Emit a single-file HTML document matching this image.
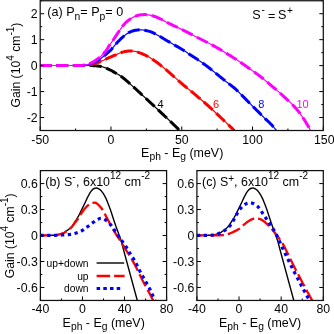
<!DOCTYPE html><html><head><meta charset="utf-8"><style>html,body{margin:0;padding:0;background:#fff}body{width:334px;height:334px;overflow:hidden}</style></head><body><svg width="334" height="334" viewBox="0 0 334 334" style="display:block;font-family:'Liberation Sans',sans-serif">
<rect width="334" height="334" fill="#fff"/>
<defs>
<clipPath id="ca"><rect x="40.2" y="0.75" width="283.1" height="129.75"/></clipPath>
<clipPath id="cb"><rect x="40.4" y="170.6" width="126.19999999999999" height="129.85"/></clipPath>
<clipPath id="cc"><rect x="196.9" y="170.6" width="126.4" height="129.85"/></clipPath>
</defs>
<g clip-path="url(#ca)" fill="none" stroke-linejoin="round">
<path d="M40.20,65.50 L40.74,65.50 L41.29,65.50 L41.83,65.50 L42.38,65.50 L42.92,65.50 L43.47,65.50 L44.01,65.50 L44.56,65.50 L45.10,65.50 L45.64,65.50 L46.19,65.50 L46.73,65.50 L47.28,65.50 L47.82,65.50 L48.37,65.50 L48.91,65.50 L49.46,65.50 L50.00,65.50 L50.55,65.50 L51.09,65.50 L51.63,65.50 L52.18,65.50 L52.72,65.50 L53.27,65.50 L53.81,65.50 L54.36,65.50 L54.90,65.50 L55.45,65.50 L55.99,65.50 L56.53,65.50 L57.08,65.50 L57.62,65.50 L58.17,65.50 L58.71,65.50 L59.26,65.50 L59.80,65.50 L60.35,65.50 L60.89,65.50 L61.43,65.50 L61.98,65.50 L62.52,65.50 L63.07,65.50 L63.61,65.50 L64.16,65.50 L64.70,65.50 L65.25,65.50 L65.79,65.50 L66.34,65.50 L66.88,65.50 L67.42,65.50 L67.97,65.50 L68.51,65.50 L69.06,65.50 L69.60,65.50 L70.15,65.50 L70.69,65.50 L71.24,65.50 L71.78,65.50 L72.32,65.50 L72.87,65.50 L73.41,65.50 L73.96,65.50 L74.50,65.50 L75.05,65.50 L75.59,65.50 L76.14,65.50 L76.68,65.50 L77.22,65.50 L77.77,65.50 L78.31,65.50 L78.86,65.50 L79.40,65.50 L79.95,65.50 L80.49,65.50 L81.04,65.50 L81.58,65.50 L82.12,65.50 L82.67,65.50 L83.21,65.50 L83.76,65.50 L84.30,65.50 L84.85,65.50 L85.39,65.50 L85.94,65.50 L86.48,65.50 L87.03,65.50 L87.57,65.51 L88.11,65.51 L88.66,65.52 L89.20,65.52 L89.75,65.53 L90.29,65.54 L90.84,65.55 L91.38,65.56 L91.92,65.58 L92.47,65.60 L93.01,65.63 L93.56,65.66 L94.10,65.69 L94.64,65.73 L95.19,65.76 L95.73,65.80 L96.27,65.85 L96.82,65.90 L97.36,65.96 L97.90,66.02 L98.44,66.08 L98.98,66.15 L99.52,66.23 L100.06,66.31 L100.59,66.40 L101.12,66.51 L101.66,66.63 L102.19,66.77 L102.71,66.91 L103.24,67.07 L103.76,67.22 L104.27,67.39 L104.78,67.57 L105.29,67.77 L105.79,67.99 L106.29,68.21 L106.79,68.43 L107.29,68.65 L107.79,68.87 L108.29,69.09 L108.78,69.32 L109.28,69.55 L109.77,69.78 L110.26,70.02 L110.74,70.27 L111.23,70.52 L111.70,70.78 L112.18,71.04 L112.65,71.31 L113.12,71.59 L113.59,71.87 L114.06,72.15 L114.53,72.42 L115.00,72.70 L115.47,72.97 L115.95,73.24 L116.42,73.50 L116.90,73.77 L117.38,74.03 L117.85,74.30 L118.32,74.57 L118.79,74.85 L119.26,75.13 L119.72,75.42 L120.17,75.71 L120.62,76.02 L121.06,76.33 L121.50,76.65 L121.94,76.98 L122.37,77.31 L122.80,77.65 L123.23,77.99 L123.66,78.33 L124.08,78.67 L124.50,79.01 L124.92,79.35 L125.34,79.70 L125.76,80.06 L126.17,80.41 L126.58,80.77 L126.99,81.13 L127.40,81.49 L127.81,81.85 L128.22,82.21 L128.62,82.57 L129.03,82.93 L129.44,83.30 L129.84,83.66 L130.25,84.02 L130.66,84.38 L131.06,84.75 L131.47,85.11 L131.87,85.47 L132.27,85.84 L132.68,86.20 L133.08,86.57 L133.49,86.94 L133.89,87.30 L134.29,87.67 L134.69,88.04 L135.09,88.40 L135.49,88.77 L135.90,89.14 L136.30,89.51 L136.70,89.88 L137.10,90.25 L137.50,90.62 L137.90,90.99 L138.29,91.36 L138.69,91.73 L139.09,92.10 L139.49,92.47 L139.89,92.84 L140.29,93.21 L140.69,93.58 L141.09,93.95 L141.48,94.33 L141.88,94.70 L142.28,95.07 L142.68,95.44 L143.08,95.81 L143.48,96.18 L143.87,96.55 L144.27,96.93 L144.67,97.30 L145.07,97.67 L145.47,98.04 L145.87,98.41 L146.26,98.78 L146.66,99.15 L147.06,99.52 L147.46,99.89 L147.86,100.26 L148.26,100.63 L148.66,101.01 L149.06,101.38 L149.45,101.75 L149.85,102.12 L150.25,102.49 L150.65,102.86 L151.05,103.23 L151.45,103.60 L151.84,103.97 L152.24,104.35 L152.64,104.72 L153.04,105.09 L153.44,105.46 L153.83,105.83 L154.23,106.20 L154.63,106.58 L155.03,106.95 L155.42,107.32 L155.82,107.69 L156.22,108.06 L156.62,108.44 L157.01,108.81 L157.41,109.18 L157.81,109.55 L158.21,109.93 L158.60,110.30 L159.00,110.67 L159.40,111.04 L159.79,111.42 L160.19,111.79 L160.59,112.16 L160.98,112.54 L161.38,112.91 L161.78,113.28 L162.17,113.66 L162.57,114.03 L162.96,114.40 L163.36,114.78 L163.76,115.15 L164.15,115.53 L164.55,115.90 L164.94,116.27 L165.34,116.65 L165.73,117.02 L166.13,117.40 L166.52,117.77 L166.92,118.15 L167.31,118.52 L167.71,118.90 L168.10,119.27 L168.50,119.65 L168.89,120.02 L169.29,120.40 L169.68,120.77 L170.07,121.15 L170.47,121.53 L170.86,121.90 L171.26,122.28 L171.65,122.65 L172.04,123.03 L172.44,123.41 L172.83,123.78 L173.22,124.16 L173.62,124.54 L174.01,124.91 L174.40,125.29 L174.79,125.67 L175.19,126.04 L175.58,126.42 L175.97,126.80 L176.36,127.18 L176.76,127.55 L177.15,127.93 L177.54,128.31 L177.93,128.69 L178.32,129.07 L178.72,129.44 L179.11,129.82 L179.50,130.20" stroke="#000" stroke-width="1.2"/>
<path d="M40.20,65.50 L40.74,65.50 L41.29,65.50 L41.83,65.50 L42.38,65.50 L42.92,65.50 L43.47,65.50 L44.01,65.50 L44.56,65.50 L45.10,65.50 L45.64,65.50 L46.19,65.50 L46.73,65.50 L47.28,65.50 L47.82,65.50 L48.37,65.50 L48.91,65.50 L49.46,65.50 L50.00,65.50 L50.55,65.50 L51.09,65.50 L51.63,65.50 L52.18,65.50 L52.72,65.50 L53.27,65.50 L53.81,65.50 L54.36,65.50 L54.90,65.50 L55.45,65.50 L55.99,65.50 L56.53,65.50 L57.08,65.50 L57.62,65.50 L58.17,65.50 L58.71,65.50 L59.26,65.50 L59.80,65.50 L60.35,65.50 L60.89,65.50 L61.43,65.50 L61.98,65.50 L62.52,65.50 L63.07,65.50 L63.61,65.50 L64.16,65.50 L64.70,65.50 L65.25,65.50 L65.79,65.50 L66.34,65.50 L66.88,65.50 L67.42,65.50 L67.97,65.50 L68.51,65.50 L69.06,65.50 L69.60,65.50 L70.15,65.50 L70.69,65.50 L71.24,65.50 L71.78,65.50 L72.32,65.50 L72.87,65.50 L73.41,65.50 L73.96,65.50 L74.50,65.50 L75.05,65.50 L75.59,65.50 L76.14,65.50 L76.68,65.50 L77.22,65.50 L77.77,65.50 L78.31,65.50 L78.86,65.50 L79.40,65.50 L79.95,65.50 L80.49,65.50 L81.04,65.50 L81.58,65.50 L82.12,65.50 L82.67,65.50 L83.21,65.50 L83.76,65.50 L84.30,65.50 L84.85,65.50 L85.39,65.50 L85.94,65.50 L86.48,65.50 L87.03,65.50 L87.57,65.51 L88.11,65.51 L88.66,65.52 L89.20,65.52 L89.75,65.53 L90.29,65.54 L90.84,65.55 L91.38,65.56 L91.92,65.58 L92.47,65.60 L93.01,65.63 L93.56,65.66 L94.10,65.69 L94.64,65.73 L95.19,65.76 L95.73,65.80 L96.27,65.85 L96.82,65.90 L97.36,65.96 L97.90,66.02 L98.44,66.08 L98.98,66.15 L99.52,66.23 L100.06,66.31 L100.59,66.40 L101.12,66.51 L101.66,66.63 L102.19,66.77 L102.71,66.91 L103.24,67.07 L103.76,67.22 L104.27,67.39 L104.78,67.57 L105.29,67.77 L105.79,67.99 L106.29,68.21 L106.79,68.43 L107.29,68.65 L107.79,68.87 L108.29,69.09 L108.78,69.32 L109.28,69.55 L109.77,69.78 L110.26,70.02 L110.74,70.27 L111.23,70.52 L111.70,70.78 L112.18,71.04 L112.65,71.31 L113.12,71.59 L113.59,71.87 L114.06,72.15 L114.53,72.42 L115.00,72.70 L115.47,72.97 L115.95,73.24 L116.42,73.50 L116.90,73.77 L117.38,74.03 L117.85,74.30 L118.32,74.57 L118.79,74.85 L119.26,75.13 L119.72,75.42 L120.17,75.71 L120.62,76.02 L121.06,76.33 L121.50,76.65 L121.94,76.98 L122.37,77.31 L122.80,77.65 L123.23,77.99 L123.66,78.33 L124.08,78.67 L124.50,79.01 L124.92,79.35 L125.34,79.70 L125.76,80.06 L126.17,80.41 L126.58,80.77 L126.99,81.13 L127.40,81.49 L127.81,81.85 L128.22,82.21 L128.62,82.57 L129.03,82.93 L129.44,83.30 L129.84,83.66 L130.25,84.02 L130.66,84.38 L131.06,84.75 L131.47,85.11 L131.87,85.47 L132.27,85.84 L132.68,86.20 L133.08,86.57 L133.49,86.94 L133.89,87.30 L134.29,87.67 L134.69,88.04 L135.09,88.40 L135.49,88.77 L135.90,89.14 L136.30,89.51 L136.70,89.88 L137.10,90.25 L137.50,90.62 L137.90,90.99 L138.29,91.36 L138.69,91.73 L139.09,92.10 L139.49,92.47 L139.89,92.84 L140.29,93.21 L140.69,93.58 L141.09,93.95 L141.48,94.33 L141.88,94.70 L142.28,95.07 L142.68,95.44 L143.08,95.81 L143.48,96.18 L143.87,96.55 L144.27,96.93 L144.67,97.30 L145.07,97.67 L145.47,98.04 L145.87,98.41 L146.26,98.78 L146.66,99.15 L147.06,99.52 L147.46,99.89 L147.86,100.26 L148.26,100.63 L148.66,101.01 L149.06,101.38 L149.45,101.75 L149.85,102.12 L150.25,102.49 L150.65,102.86 L151.05,103.23 L151.45,103.60 L151.84,103.97 L152.24,104.35 L152.64,104.72 L153.04,105.09 L153.44,105.46 L153.83,105.83 L154.23,106.20 L154.63,106.58 L155.03,106.95 L155.42,107.32 L155.82,107.69 L156.22,108.06 L156.62,108.44 L157.01,108.81 L157.41,109.18 L157.81,109.55 L158.21,109.93 L158.60,110.30 L159.00,110.67 L159.40,111.04 L159.79,111.42 L160.19,111.79 L160.59,112.16 L160.98,112.54 L161.38,112.91 L161.78,113.28 L162.17,113.66 L162.57,114.03 L162.96,114.40 L163.36,114.78 L163.76,115.15 L164.15,115.53 L164.55,115.90 L164.94,116.27 L165.34,116.65 L165.73,117.02 L166.13,117.40 L166.52,117.77 L166.92,118.15 L167.31,118.52 L167.71,118.90 L168.10,119.27 L168.50,119.65 L168.89,120.02 L169.29,120.40 L169.68,120.77 L170.07,121.15 L170.47,121.53 L170.86,121.90 L171.26,122.28 L171.65,122.65 L172.04,123.03 L172.44,123.41 L172.83,123.78 L173.22,124.16 L173.62,124.54 L174.01,124.91 L174.40,125.29 L174.79,125.67 L175.19,126.04 L175.58,126.42 L175.97,126.80 L176.36,127.18 L176.76,127.55 L177.15,127.93 L177.54,128.31 L177.93,128.69 L178.32,129.07 L178.72,129.44 L179.11,129.82 L179.50,130.20" stroke="#000" stroke-width="3" stroke-dasharray="12 4.75" stroke-dashoffset="0.8"/>
<path d="M40.20,65.50 L40.95,65.50 L41.71,65.50 L42.46,65.50 L43.21,65.50 L43.97,65.50 L44.72,65.50 L45.47,65.50 L46.23,65.50 L46.98,65.50 L47.73,65.50 L48.49,65.50 L49.24,65.50 L49.99,65.50 L50.75,65.50 L51.50,65.50 L52.25,65.50 L53.01,65.50 L53.76,65.50 L54.51,65.50 L55.27,65.50 L56.02,65.50 L56.77,65.50 L57.53,65.50 L58.28,65.50 L59.03,65.50 L59.79,65.50 L60.54,65.50 L61.29,65.50 L62.05,65.50 L62.80,65.50 L63.55,65.50 L64.31,65.50 L65.06,65.50 L65.81,65.50 L66.57,65.50 L67.32,65.50 L68.07,65.50 L68.83,65.50 L69.58,65.50 L70.33,65.50 L71.09,65.50 L71.84,65.50 L72.59,65.50 L73.34,65.50 L74.10,65.50 L74.85,65.50 L75.60,65.50 L76.36,65.50 L77.11,65.50 L77.86,65.50 L78.62,65.50 L79.37,65.50 L80.12,65.50 L80.88,65.50 L81.63,65.49 L82.38,65.47 L83.14,65.46 L83.89,65.44 L84.64,65.41 L85.39,65.38 L86.15,65.33 L86.90,65.26 L87.65,65.18 L88.40,65.08 L89.14,64.98 L89.88,64.87 L90.63,64.73 L91.37,64.58 L92.10,64.42 L92.84,64.24 L93.56,64.04 L94.27,63.81 L94.98,63.56 L95.69,63.30 L96.40,63.04 L97.11,62.78 L97.82,62.53 L98.53,62.26 L99.23,62.00 L99.93,61.73 L100.63,61.45 L101.33,61.16 L102.02,60.87 L102.71,60.57 L103.40,60.26 L104.09,59.96 L104.78,59.64 L105.46,59.32 L106.14,58.99 L106.82,58.67 L107.50,58.35 L108.19,58.04 L108.87,57.73 L109.56,57.42 L110.25,57.12 L110.94,56.82 L111.64,56.54 L112.34,56.26 L113.04,55.98 L113.74,55.71 L114.44,55.43 L115.14,55.14 L115.83,54.84 L116.51,54.52 L117.20,54.20 L117.88,53.88 L118.57,53.57 L119.26,53.28 L119.96,53.01 L120.67,52.77 L121.39,52.53 L122.11,52.30 L122.83,52.09 L123.56,51.90 L124.29,51.73 L125.03,51.57 L125.77,51.41 L126.51,51.27 L127.26,51.16 L128.01,51.10 L128.76,51.07 L129.51,51.04 L130.27,51.01 L131.02,51.00 L131.77,51.00 L132.52,51.04 L133.28,51.13 L134.03,51.24 L134.77,51.37 L135.51,51.51 L136.24,51.65 L136.97,51.83 L137.69,52.06 L138.41,52.31 L139.12,52.57 L139.82,52.84 L140.53,53.10 L141.23,53.37 L141.93,53.66 L142.62,53.96 L143.31,54.26 L144.00,54.57 L144.68,54.88 L145.36,55.21 L146.04,55.54 L146.72,55.87 L147.39,56.22 L148.05,56.57 L148.71,56.94 L149.36,57.31 L150.01,57.70 L150.64,58.10 L151.28,58.51 L151.91,58.92 L152.53,59.35 L153.16,59.77 L153.78,60.19 L154.40,60.62 L155.02,61.05 L155.64,61.48 L156.25,61.92 L156.86,62.36 L157.47,62.80 L158.07,63.25 L158.67,63.71 L159.26,64.18 L159.85,64.65 L160.44,65.12 L161.02,65.60 L161.61,66.07 L162.19,66.55 L162.78,67.02 L163.36,67.50 L163.95,67.97 L164.53,68.45 L165.11,68.93 L165.69,69.40 L166.27,69.89 L166.85,70.37 L167.42,70.86 L167.99,71.35 L168.56,71.85 L169.12,72.34 L169.69,72.84 L170.25,73.35 L170.81,73.85 L171.37,74.35 L171.93,74.86 L172.49,75.36 L173.05,75.87 L173.61,76.37 L174.17,76.87 L174.73,77.38 L175.29,77.88 L175.86,78.38 L176.43,78.87 L176.99,79.37 L177.56,79.87 L178.12,80.36 L178.69,80.86 L179.26,81.36 L179.82,81.85 L180.39,82.35 L180.96,82.84 L181.53,83.34 L182.10,83.83 L182.67,84.32 L183.24,84.81 L183.81,85.30 L184.39,85.79 L184.97,86.27 L185.54,86.75 L186.12,87.23 L186.71,87.71 L187.29,88.18 L187.88,88.66 L188.47,89.13 L189.05,89.60 L189.64,90.07 L190.23,90.54 L190.82,91.01 L191.41,91.48 L191.99,91.96 L192.58,92.43 L193.16,92.91 L193.74,93.39 L194.32,93.87 L194.90,94.35 L195.48,94.84 L196.05,95.32 L196.63,95.81 L197.20,96.30 L197.77,96.79 L198.35,97.28 L198.92,97.77 L199.49,98.26 L200.06,98.75 L200.63,99.24 L201.20,99.74 L201.77,100.23 L202.34,100.72 L202.90,101.22 L203.47,101.71 L204.04,102.21 L204.61,102.70 L205.17,103.20 L205.74,103.70 L206.30,104.20 L206.87,104.70 L207.43,105.20 L207.99,105.70 L208.56,106.20 L209.12,106.70 L209.68,107.21 L210.23,107.71 L210.79,108.22 L211.35,108.73 L211.90,109.23 L212.46,109.74 L213.01,110.25 L213.56,110.77 L214.12,111.28 L214.67,111.79 L215.22,112.31 L215.77,112.82 L216.32,113.34 L216.87,113.85 L217.42,114.37 L217.97,114.88 L218.51,115.40 L219.06,115.92 L219.61,116.43 L220.16,116.95 L220.71,117.47 L221.25,117.98 L221.80,118.50 L222.35,119.02 L222.89,119.54 L223.44,120.06 L223.99,120.58 L224.53,121.09 L225.08,121.61 L225.62,122.13 L226.17,122.65 L226.71,123.17 L227.26,123.70 L227.80,124.22 L228.34,124.74 L228.89,125.26 L229.43,125.78 L229.97,126.31 L230.52,126.83 L231.06,127.35 L231.60,127.88 L232.14,128.40 L232.68,128.92 L233.22,129.45 L233.76,129.97 L234.30,130.50" stroke="#f00" stroke-width="1.2"/>
<path d="M40.20,65.50 L40.95,65.50 L41.71,65.50 L42.46,65.50 L43.21,65.50 L43.97,65.50 L44.72,65.50 L45.47,65.50 L46.23,65.50 L46.98,65.50 L47.73,65.50 L48.49,65.50 L49.24,65.50 L49.99,65.50 L50.75,65.50 L51.50,65.50 L52.25,65.50 L53.01,65.50 L53.76,65.50 L54.51,65.50 L55.27,65.50 L56.02,65.50 L56.77,65.50 L57.53,65.50 L58.28,65.50 L59.03,65.50 L59.79,65.50 L60.54,65.50 L61.29,65.50 L62.05,65.50 L62.80,65.50 L63.55,65.50 L64.31,65.50 L65.06,65.50 L65.81,65.50 L66.57,65.50 L67.32,65.50 L68.07,65.50 L68.83,65.50 L69.58,65.50 L70.33,65.50 L71.09,65.50 L71.84,65.50 L72.59,65.50 L73.34,65.50 L74.10,65.50 L74.85,65.50 L75.60,65.50 L76.36,65.50 L77.11,65.50 L77.86,65.50 L78.62,65.50 L79.37,65.50 L80.12,65.50 L80.88,65.50 L81.63,65.49 L82.38,65.47 L83.14,65.46 L83.89,65.44 L84.64,65.41 L85.39,65.38 L86.15,65.33 L86.90,65.26 L87.65,65.18 L88.40,65.08 L89.14,64.98 L89.88,64.87 L90.63,64.73 L91.37,64.58 L92.10,64.42 L92.84,64.24 L93.56,64.04 L94.27,63.81 L94.98,63.56 L95.69,63.30 L96.40,63.04 L97.11,62.78 L97.82,62.53 L98.53,62.26 L99.23,62.00 L99.93,61.73 L100.63,61.45 L101.33,61.16 L102.02,60.87 L102.71,60.57 L103.40,60.26 L104.09,59.96 L104.78,59.64 L105.46,59.32 L106.14,58.99 L106.82,58.67 L107.50,58.35 L108.19,58.04 L108.87,57.73 L109.56,57.42 L110.25,57.12 L110.94,56.82 L111.64,56.54 L112.34,56.26 L113.04,55.98 L113.74,55.71 L114.44,55.43 L115.14,55.14 L115.83,54.84 L116.51,54.52 L117.20,54.20 L117.88,53.88 L118.57,53.57 L119.26,53.28 L119.96,53.01 L120.67,52.77 L121.39,52.53 L122.11,52.30 L122.83,52.09 L123.56,51.90 L124.29,51.73 L125.03,51.57 L125.77,51.41 L126.51,51.27 L127.26,51.16 L128.01,51.10 L128.76,51.07 L129.51,51.04 L130.27,51.01 L131.02,51.00 L131.77,51.00 L132.52,51.04 L133.28,51.13 L134.03,51.24 L134.77,51.37 L135.51,51.51 L136.24,51.65 L136.97,51.83 L137.69,52.06 L138.41,52.31 L139.12,52.57 L139.82,52.84 L140.53,53.10 L141.23,53.37 L141.93,53.66 L142.62,53.96 L143.31,54.26 L144.00,54.57 L144.68,54.88 L145.36,55.21 L146.04,55.54 L146.72,55.87 L147.39,56.22 L148.05,56.57 L148.71,56.94 L149.36,57.31 L150.01,57.70 L150.64,58.10 L151.28,58.51 L151.91,58.92 L152.53,59.35 L153.16,59.77 L153.78,60.19 L154.40,60.62 L155.02,61.05 L155.64,61.48 L156.25,61.92 L156.86,62.36 L157.47,62.80 L158.07,63.25 L158.67,63.71 L159.26,64.18 L159.85,64.65 L160.44,65.12 L161.02,65.60 L161.61,66.07 L162.19,66.55 L162.78,67.02 L163.36,67.50 L163.95,67.97 L164.53,68.45 L165.11,68.93 L165.69,69.40 L166.27,69.89 L166.85,70.37 L167.42,70.86 L167.99,71.35 L168.56,71.85 L169.12,72.34 L169.69,72.84 L170.25,73.35 L170.81,73.85 L171.37,74.35 L171.93,74.86 L172.49,75.36 L173.05,75.87 L173.61,76.37 L174.17,76.87 L174.73,77.38 L175.29,77.88 L175.86,78.38 L176.43,78.87 L176.99,79.37 L177.56,79.87 L178.12,80.36 L178.69,80.86 L179.26,81.36 L179.82,81.85 L180.39,82.35 L180.96,82.84 L181.53,83.34 L182.10,83.83 L182.67,84.32 L183.24,84.81 L183.81,85.30 L184.39,85.79 L184.97,86.27 L185.54,86.75 L186.12,87.23 L186.71,87.71 L187.29,88.18 L187.88,88.66 L188.47,89.13 L189.05,89.60 L189.64,90.07 L190.23,90.54 L190.82,91.01 L191.41,91.48 L191.99,91.96 L192.58,92.43 L193.16,92.91 L193.74,93.39 L194.32,93.87 L194.90,94.35 L195.48,94.84 L196.05,95.32 L196.63,95.81 L197.20,96.30 L197.77,96.79 L198.35,97.28 L198.92,97.77 L199.49,98.26 L200.06,98.75 L200.63,99.24 L201.20,99.74 L201.77,100.23 L202.34,100.72 L202.90,101.22 L203.47,101.71 L204.04,102.21 L204.61,102.70 L205.17,103.20 L205.74,103.70 L206.30,104.20 L206.87,104.70 L207.43,105.20 L207.99,105.70 L208.56,106.20 L209.12,106.70 L209.68,107.21 L210.23,107.71 L210.79,108.22 L211.35,108.73 L211.90,109.23 L212.46,109.74 L213.01,110.25 L213.56,110.77 L214.12,111.28 L214.67,111.79 L215.22,112.31 L215.77,112.82 L216.32,113.34 L216.87,113.85 L217.42,114.37 L217.97,114.88 L218.51,115.40 L219.06,115.92 L219.61,116.43 L220.16,116.95 L220.71,117.47 L221.25,117.98 L221.80,118.50 L222.35,119.02 L222.89,119.54 L223.44,120.06 L223.99,120.58 L224.53,121.09 L225.08,121.61 L225.62,122.13 L226.17,122.65 L226.71,123.17 L227.26,123.70 L227.80,124.22 L228.34,124.74 L228.89,125.26 L229.43,125.78 L229.97,126.31 L230.52,126.83 L231.06,127.35 L231.60,127.88 L232.14,128.40 L232.68,128.92 L233.22,129.45 L233.76,129.97 L234.30,130.50" stroke="#f00" stroke-width="3" stroke-dasharray="12 4.75" stroke-dashoffset="0.8"/>
<path d="M40.20,65.50 L41.15,65.50 L42.10,65.50 L43.05,65.50 L44.00,65.50 L44.95,65.50 L45.90,65.50 L46.85,65.50 L47.80,65.50 L48.75,65.50 L49.70,65.50 L50.65,65.50 L51.60,65.50 L52.54,65.50 L53.49,65.50 L54.44,65.50 L55.39,65.50 L56.34,65.50 L57.29,65.50 L58.24,65.50 L59.19,65.50 L60.14,65.50 L61.09,65.50 L62.04,65.50 L62.99,65.50 L63.94,65.50 L64.89,65.50 L65.83,65.50 L66.78,65.50 L67.73,65.50 L68.68,65.50 L69.63,65.50 L70.58,65.50 L71.53,65.50 L72.48,65.50 L73.43,65.50 L74.38,65.50 L75.33,65.50 L76.27,65.50 L77.22,65.50 L78.17,65.50 L79.12,65.50 L80.07,65.50 L81.02,65.49 L81.97,65.45 L82.92,65.40 L83.86,65.33 L84.80,65.20 L85.74,65.04 L86.68,64.88 L87.61,64.69 L88.53,64.47 L89.45,64.22 L90.34,63.92 L91.23,63.56 L92.10,63.18 L92.97,62.79 L93.83,62.39 L94.68,61.98 L95.53,61.55 L96.37,61.11 L97.20,60.65 L98.04,60.19 L98.86,59.71 L99.66,59.22 L100.45,58.70 L101.23,58.15 L101.99,57.59 L102.75,57.00 L103.49,56.41 L104.23,55.81 L104.95,55.20 L105.66,54.57 L106.36,53.93 L107.07,53.29 L107.78,52.67 L108.51,52.05 L109.24,51.44 L109.95,50.81 L110.64,50.16 L111.29,49.48 L111.92,48.77 L112.52,48.04 L113.12,47.30 L113.71,46.55 L114.31,45.81 L114.92,45.09 L115.55,44.37 L116.18,43.66 L116.82,42.96 L117.46,42.26 L118.12,41.58 L118.78,40.90 L119.45,40.21 L120.12,39.53 L120.79,38.86 L121.48,38.20 L122.18,37.55 L122.89,36.92 L123.61,36.32 L124.34,35.73 L125.09,35.14 L125.85,34.55 L126.63,33.97 L127.42,33.42 L128.23,32.91 L129.05,32.45 L129.89,32.05 L130.75,31.70 L131.63,31.36 L132.54,31.04 L133.46,30.76 L134.39,30.52 L135.32,30.31 L136.25,30.16 L137.19,30.03 L138.14,29.91 L139.09,29.83 L140.03,29.80 L140.98,29.83 L141.92,29.89 L142.87,30.00 L143.82,30.14 L144.77,30.30 L145.71,30.49 L146.65,30.69 L147.57,30.91 L148.49,31.13 L149.38,31.35 L150.27,31.62 L151.15,31.94 L152.02,32.30 L152.89,32.69 L153.74,33.12 L154.60,33.57 L155.44,34.03 L156.29,34.50 L157.13,34.97 L157.97,35.44 L158.81,35.90 L159.64,36.34 L160.47,36.80 L161.29,37.28 L162.11,37.76 L162.92,38.25 L163.74,38.74 L164.55,39.23 L165.36,39.73 L166.17,40.22 L166.99,40.70 L167.81,41.18 L168.63,41.65 L169.46,42.13 L170.28,42.60 L171.11,43.07 L171.93,43.54 L172.76,44.01 L173.58,44.48 L174.40,44.95 L175.22,45.43 L176.05,45.90 L176.87,46.38 L177.69,46.85 L178.51,47.33 L179.33,47.80 L180.15,48.28 L180.97,48.77 L181.78,49.26 L182.59,49.75 L183.40,50.25 L184.20,50.76 L185.00,51.28 L185.79,51.80 L186.58,52.32 L187.37,52.85 L188.16,53.38 L188.95,53.91 L189.74,54.43 L190.54,54.95 L191.33,55.47 L192.13,55.98 L192.93,56.50 L193.72,57.01 L194.52,57.53 L195.32,58.05 L196.11,58.57 L196.91,59.09 L197.70,59.61 L198.48,60.15 L199.26,60.68 L200.04,61.22 L200.82,61.77 L201.60,62.31 L202.37,62.86 L203.15,63.41 L203.92,63.97 L204.68,64.53 L205.45,65.09 L206.21,65.66 L206.97,66.22 L207.73,66.80 L208.48,67.37 L209.24,67.95 L209.98,68.53 L210.73,69.12 L211.47,69.72 L212.21,70.31 L212.95,70.91 L213.68,71.51 L214.42,72.11 L215.16,72.71 L215.89,73.31 L216.63,73.90 L217.37,74.50 L218.11,75.10 L218.85,75.69 L219.58,76.29 L220.32,76.89 L221.05,77.49 L221.79,78.09 L222.53,78.69 L223.26,79.29 L224.00,79.89 L224.74,80.49 L225.48,81.08 L226.22,81.67 L226.96,82.26 L227.72,82.84 L228.47,83.42 L229.23,84.00 L229.98,84.57 L230.74,85.15 L231.49,85.73 L232.24,86.32 L232.98,86.91 L233.72,87.51 L234.44,88.12 L235.15,88.74 L235.86,89.37 L236.55,90.02 L237.24,90.67 L237.92,91.33 L238.60,92.00 L239.27,92.67 L239.94,93.35 L240.61,94.02 L241.29,94.69 L241.96,95.36 L242.63,96.03 L243.29,96.71 L243.96,97.39 L244.62,98.07 L245.28,98.75 L245.95,99.42 L246.61,100.10 L247.28,100.78 L247.94,101.46 L248.60,102.14 L249.27,102.81 L249.93,103.49 L250.60,104.17 L251.26,104.85 L251.93,105.52 L252.60,106.20 L253.27,106.87 L253.94,107.54 L254.62,108.20 L255.30,108.87 L255.98,109.53 L256.65,110.20 L257.33,110.86 L258.01,111.52 L258.69,112.19 L259.36,112.86 L260.03,113.53 L260.70,114.20 L261.37,114.88 L262.04,115.55 L262.71,116.23 L263.38,116.90 L264.05,117.57 L264.73,118.23 L265.41,118.89 L266.10,119.55 L266.79,120.19 L267.49,120.84 L268.19,121.48 L268.89,122.13 L269.57,122.78 L270.25,123.45 L270.92,124.12 L271.57,124.80 L272.22,125.49 L272.87,126.19 L273.51,126.89 L274.14,127.60 L274.76,128.32 L275.38,129.04 L275.99,129.77 L276.60,130.50" stroke="#00f" stroke-width="1.2"/>
<path d="M40.20,65.50 L41.15,65.50 L42.10,65.50 L43.05,65.50 L44.00,65.50 L44.95,65.50 L45.90,65.50 L46.85,65.50 L47.80,65.50 L48.75,65.50 L49.70,65.50 L50.65,65.50 L51.60,65.50 L52.54,65.50 L53.49,65.50 L54.44,65.50 L55.39,65.50 L56.34,65.50 L57.29,65.50 L58.24,65.50 L59.19,65.50 L60.14,65.50 L61.09,65.50 L62.04,65.50 L62.99,65.50 L63.94,65.50 L64.89,65.50 L65.83,65.50 L66.78,65.50 L67.73,65.50 L68.68,65.50 L69.63,65.50 L70.58,65.50 L71.53,65.50 L72.48,65.50 L73.43,65.50 L74.38,65.50 L75.33,65.50 L76.27,65.50 L77.22,65.50 L78.17,65.50 L79.12,65.50 L80.07,65.50 L81.02,65.49 L81.97,65.45 L82.92,65.40 L83.86,65.33 L84.80,65.20 L85.74,65.04 L86.68,64.88 L87.61,64.69 L88.53,64.47 L89.45,64.22 L90.34,63.92 L91.23,63.56 L92.10,63.18 L92.97,62.79 L93.83,62.39 L94.68,61.98 L95.53,61.55 L96.37,61.11 L97.20,60.65 L98.04,60.19 L98.86,59.71 L99.66,59.22 L100.45,58.70 L101.23,58.15 L101.99,57.59 L102.75,57.00 L103.49,56.41 L104.23,55.81 L104.95,55.20 L105.66,54.57 L106.36,53.93 L107.07,53.29 L107.78,52.67 L108.51,52.05 L109.24,51.44 L109.95,50.81 L110.64,50.16 L111.29,49.48 L111.92,48.77 L112.52,48.04 L113.12,47.30 L113.71,46.55 L114.31,45.81 L114.92,45.09 L115.55,44.37 L116.18,43.66 L116.82,42.96 L117.46,42.26 L118.12,41.58 L118.78,40.90 L119.45,40.21 L120.12,39.53 L120.79,38.86 L121.48,38.20 L122.18,37.55 L122.89,36.92 L123.61,36.32 L124.34,35.73 L125.09,35.14 L125.85,34.55 L126.63,33.97 L127.42,33.42 L128.23,32.91 L129.05,32.45 L129.89,32.05 L130.75,31.70 L131.63,31.36 L132.54,31.04 L133.46,30.76 L134.39,30.52 L135.32,30.31 L136.25,30.16 L137.19,30.03 L138.14,29.91 L139.09,29.83 L140.03,29.80 L140.98,29.83 L141.92,29.89 L142.87,30.00 L143.82,30.14 L144.77,30.30 L145.71,30.49 L146.65,30.69 L147.57,30.91 L148.49,31.13 L149.38,31.35 L150.27,31.62 L151.15,31.94 L152.02,32.30 L152.89,32.69 L153.74,33.12 L154.60,33.57 L155.44,34.03 L156.29,34.50 L157.13,34.97 L157.97,35.44 L158.81,35.90 L159.64,36.34 L160.47,36.80 L161.29,37.28 L162.11,37.76 L162.92,38.25 L163.74,38.74 L164.55,39.23 L165.36,39.73 L166.17,40.22 L166.99,40.70 L167.81,41.18 L168.63,41.65 L169.46,42.13 L170.28,42.60 L171.11,43.07 L171.93,43.54 L172.76,44.01 L173.58,44.48 L174.40,44.95 L175.22,45.43 L176.05,45.90 L176.87,46.38 L177.69,46.85 L178.51,47.33 L179.33,47.80 L180.15,48.28 L180.97,48.77 L181.78,49.26 L182.59,49.75 L183.40,50.25 L184.20,50.76 L185.00,51.28 L185.79,51.80 L186.58,52.32 L187.37,52.85 L188.16,53.38 L188.95,53.91 L189.74,54.43 L190.54,54.95 L191.33,55.47 L192.13,55.98 L192.93,56.50 L193.72,57.01 L194.52,57.53 L195.32,58.05 L196.11,58.57 L196.91,59.09 L197.70,59.61 L198.48,60.15 L199.26,60.68 L200.04,61.22 L200.82,61.77 L201.60,62.31 L202.37,62.86 L203.15,63.41 L203.92,63.97 L204.68,64.53 L205.45,65.09 L206.21,65.66 L206.97,66.22 L207.73,66.80 L208.48,67.37 L209.24,67.95 L209.98,68.53 L210.73,69.12 L211.47,69.72 L212.21,70.31 L212.95,70.91 L213.68,71.51 L214.42,72.11 L215.16,72.71 L215.89,73.31 L216.63,73.90 L217.37,74.50 L218.11,75.10 L218.85,75.69 L219.58,76.29 L220.32,76.89 L221.05,77.49 L221.79,78.09 L222.53,78.69 L223.26,79.29 L224.00,79.89 L224.74,80.49 L225.48,81.08 L226.22,81.67 L226.96,82.26 L227.72,82.84 L228.47,83.42 L229.23,84.00 L229.98,84.57 L230.74,85.15 L231.49,85.73 L232.24,86.32 L232.98,86.91 L233.72,87.51 L234.44,88.12 L235.15,88.74 L235.86,89.37 L236.55,90.02 L237.24,90.67 L237.92,91.33 L238.60,92.00 L239.27,92.67 L239.94,93.35 L240.61,94.02 L241.29,94.69 L241.96,95.36 L242.63,96.03 L243.29,96.71 L243.96,97.39 L244.62,98.07 L245.28,98.75 L245.95,99.42 L246.61,100.10 L247.28,100.78 L247.94,101.46 L248.60,102.14 L249.27,102.81 L249.93,103.49 L250.60,104.17 L251.26,104.85 L251.93,105.52 L252.60,106.20 L253.27,106.87 L253.94,107.54 L254.62,108.20 L255.30,108.87 L255.98,109.53 L256.65,110.20 L257.33,110.86 L258.01,111.52 L258.69,112.19 L259.36,112.86 L260.03,113.53 L260.70,114.20 L261.37,114.88 L262.04,115.55 L262.71,116.23 L263.38,116.90 L264.05,117.57 L264.73,118.23 L265.41,118.89 L266.10,119.55 L266.79,120.19 L267.49,120.84 L268.19,121.48 L268.89,122.13 L269.57,122.78 L270.25,123.45 L270.92,124.12 L271.57,124.80 L272.22,125.49 L272.87,126.19 L273.51,126.89 L274.14,127.60 L274.76,128.32 L275.38,129.04 L275.99,129.77 L276.60,130.50" stroke="#00f" stroke-width="3" stroke-dasharray="12 4.75" stroke-dashoffset="0.8"/>
<path d="M40.20,65.50 L41.31,65.50 L42.43,65.50 L43.54,65.50 L44.65,65.50 L45.77,65.50 L46.88,65.50 L47.99,65.50 L49.10,65.50 L50.22,65.50 L51.33,65.50 L52.44,65.50 L53.55,65.50 L54.67,65.50 L55.78,65.50 L56.89,65.50 L58.00,65.50 L59.11,65.50 L60.23,65.50 L61.34,65.50 L62.45,65.50 L63.56,65.50 L64.67,65.50 L65.78,65.50 L66.90,65.50 L68.01,65.50 L69.12,65.50 L70.23,65.50 L71.34,65.50 L72.45,65.50 L73.56,65.50 L74.68,65.50 L75.79,65.50 L76.90,65.50 L78.01,65.50 L79.12,65.50 L80.23,65.50 L81.34,65.45 L82.45,65.36 L83.56,65.23 L84.66,65.06 L85.74,64.84 L86.82,64.55 L87.88,64.21 L88.93,63.84 L89.96,63.43 L90.98,62.97 L91.98,62.47 L92.95,61.95 L93.91,61.38 L94.85,60.78 L95.77,60.16 L96.69,59.53 L97.60,58.88 L98.49,58.22 L99.37,57.53 L100.21,56.82 L101.03,56.07 L101.83,55.29 L102.61,54.49 L103.38,53.68 L104.12,52.86 L104.87,52.03 L105.59,51.18 L106.27,50.31 L106.91,49.40 L107.50,48.46 L108.07,47.50 L108.65,46.55 L109.25,45.62 L109.88,44.70 L110.52,43.79 L111.17,42.89 L111.81,41.98 L112.44,41.06 L113.07,40.14 L113.70,39.23 L114.32,38.31 L114.94,37.38 L115.56,36.46 L116.17,35.53 L116.77,34.59 L117.39,33.66 L118.01,32.74 L118.64,31.83 L119.27,30.91 L119.91,30.01 L120.56,29.10 L121.22,28.20 L121.86,27.29 L122.52,26.39 L123.18,25.50 L123.88,24.64 L124.62,23.81 L125.39,23.01 L126.19,22.23 L127.02,21.49 L127.87,20.78 L128.75,20.10 L129.65,19.44 L130.57,18.81 L131.49,18.19 L132.44,17.60 L133.42,17.09 L134.43,16.61 L135.46,16.19 L136.51,15.82 L137.57,15.46 L138.65,15.15 L139.73,14.93 L140.83,14.82 L141.94,14.73 L143.05,14.65 L144.17,14.61 L145.28,14.60 L146.39,14.67 L147.50,14.79 L148.60,14.96 L149.70,15.15 L150.79,15.35 L151.87,15.61 L152.94,15.92 L154.00,16.25 L155.05,16.61 L156.09,17.00 L157.13,17.42 L158.15,17.86 L159.17,18.32 L160.18,18.78 L161.17,19.27 L162.16,19.78 L163.13,20.31 L164.11,20.86 L165.08,21.40 L166.05,21.94 L167.04,22.46 L168.03,22.96 L169.02,23.46 L170.03,23.94 L171.03,24.42 L172.04,24.89 L173.05,25.36 L174.06,25.82 L175.07,26.28 L176.08,26.75 L177.09,27.21 L178.10,27.67 L179.11,28.14 L180.12,28.61 L181.12,29.09 L182.13,29.57 L183.12,30.06 L184.12,30.56 L185.11,31.06 L186.10,31.56 L187.09,32.07 L188.07,32.59 L189.06,33.10 L190.04,33.62 L191.03,34.14 L192.01,34.66 L192.99,35.18 L193.98,35.70 L194.96,36.22 L195.95,36.73 L196.93,37.25 L197.92,37.76 L198.91,38.27 L199.90,38.77 L200.90,39.27 L201.89,39.77 L202.89,40.26 L203.88,40.76 L204.88,41.26 L205.88,41.75 L206.87,42.25 L207.86,42.75 L208.85,43.26 L209.84,43.76 L210.83,44.28 L211.81,44.80 L212.79,45.32 L213.76,45.85 L214.73,46.39 L215.70,46.94 L216.67,47.49 L217.63,48.05 L218.59,48.61 L219.55,49.17 L220.51,49.74 L221.46,50.31 L222.42,50.88 L223.37,51.46 L224.32,52.04 L225.27,52.62 L226.22,53.19 L227.17,53.78 L228.11,54.36 L229.06,54.94 L230.00,55.53 L230.95,56.12 L231.89,56.72 L232.83,57.31 L233.76,57.91 L234.70,58.51 L235.63,59.12 L236.56,59.72 L237.49,60.33 L238.42,60.95 L239.34,61.56 L240.27,62.19 L241.18,62.81 L242.10,63.44 L243.02,64.08 L243.93,64.71 L244.84,65.35 L245.75,65.99 L246.66,66.63 L247.56,67.27 L248.47,67.92 L249.38,68.56 L250.29,69.20 L251.20,69.84 L252.11,70.48 L253.02,71.12 L253.93,71.76 L254.84,72.40 L255.74,73.05 L256.65,73.70 L257.55,74.35 L258.44,75.01 L259.33,75.68 L260.21,76.36 L261.08,77.05 L261.94,77.74 L262.80,78.45 L263.66,79.16 L264.51,79.88 L265.36,80.60 L266.20,81.32 L267.05,82.04 L267.90,82.76 L268.74,83.48 L269.60,84.20 L270.45,84.92 L271.30,85.63 L272.16,86.34 L273.01,87.05 L273.87,87.77 L274.72,88.48 L275.57,89.20 L276.42,89.91 L277.27,90.63 L278.12,91.36 L278.96,92.09 L279.79,92.82 L280.63,93.55 L281.45,94.29 L282.27,95.04 L283.09,95.79 L283.91,96.55 L284.73,97.30 L285.56,98.06 L286.38,98.81 L287.20,99.58 L288.02,100.34 L288.84,101.11 L289.65,101.88 L290.46,102.66 L291.26,103.44 L292.05,104.23 L292.83,105.02 L293.60,105.82 L294.36,106.63 L295.11,107.45 L295.84,108.27 L296.56,109.11 L297.26,109.95 L297.94,110.80 L298.62,111.67 L299.29,112.54 L299.95,113.43 L300.60,114.33 L301.24,115.23 L301.88,116.15 L302.51,117.07 L303.13,118.00 L303.74,118.93 L304.35,119.87 L304.94,120.82 L305.54,121.77 L306.12,122.73 L306.70,123.69 L307.26,124.66 L307.83,125.62 L308.38,126.59 L308.93,127.56 L309.47,128.53 L310.00,129.51 L310.50,130.50" stroke="#f0f" stroke-width="1.2"/>
<path d="M40.20,65.50 L41.31,65.50 L42.43,65.50 L43.54,65.50 L44.65,65.50 L45.77,65.50 L46.88,65.50 L47.99,65.50 L49.10,65.50 L50.22,65.50 L51.33,65.50 L52.44,65.50 L53.55,65.50 L54.67,65.50 L55.78,65.50 L56.89,65.50 L58.00,65.50 L59.11,65.50 L60.23,65.50 L61.34,65.50 L62.45,65.50 L63.56,65.50 L64.67,65.50 L65.78,65.50 L66.90,65.50 L68.01,65.50 L69.12,65.50 L70.23,65.50 L71.34,65.50 L72.45,65.50 L73.56,65.50 L74.68,65.50 L75.79,65.50 L76.90,65.50 L78.01,65.50 L79.12,65.50 L80.23,65.50 L81.34,65.45 L82.45,65.36 L83.56,65.23 L84.66,65.06 L85.74,64.84 L86.82,64.55 L87.88,64.21 L88.93,63.84 L89.96,63.43 L90.98,62.97 L91.98,62.47 L92.95,61.95 L93.91,61.38 L94.85,60.78 L95.77,60.16 L96.69,59.53 L97.60,58.88 L98.49,58.22 L99.37,57.53 L100.21,56.82 L101.03,56.07 L101.83,55.29 L102.61,54.49 L103.38,53.68 L104.12,52.86 L104.87,52.03 L105.59,51.18 L106.27,50.31 L106.91,49.40 L107.50,48.46 L108.07,47.50 L108.65,46.55 L109.25,45.62 L109.88,44.70 L110.52,43.79 L111.17,42.89 L111.81,41.98 L112.44,41.06 L113.07,40.14 L113.70,39.23 L114.32,38.31 L114.94,37.38 L115.56,36.46 L116.17,35.53 L116.77,34.59 L117.39,33.66 L118.01,32.74 L118.64,31.83 L119.27,30.91 L119.91,30.01 L120.56,29.10 L121.22,28.20 L121.86,27.29 L122.52,26.39 L123.18,25.50 L123.88,24.64 L124.62,23.81 L125.39,23.01 L126.19,22.23 L127.02,21.49 L127.87,20.78 L128.75,20.10 L129.65,19.44 L130.57,18.81 L131.49,18.19 L132.44,17.60 L133.42,17.09 L134.43,16.61 L135.46,16.19 L136.51,15.82 L137.57,15.46 L138.65,15.15 L139.73,14.93 L140.83,14.82 L141.94,14.73 L143.05,14.65 L144.17,14.61 L145.28,14.60 L146.39,14.67 L147.50,14.79 L148.60,14.96 L149.70,15.15 L150.79,15.35 L151.87,15.61 L152.94,15.92 L154.00,16.25 L155.05,16.61 L156.09,17.00 L157.13,17.42 L158.15,17.86 L159.17,18.32 L160.18,18.78 L161.17,19.27 L162.16,19.78 L163.13,20.31 L164.11,20.86 L165.08,21.40 L166.05,21.94 L167.04,22.46 L168.03,22.96 L169.02,23.46 L170.03,23.94 L171.03,24.42 L172.04,24.89 L173.05,25.36 L174.06,25.82 L175.07,26.28 L176.08,26.75 L177.09,27.21 L178.10,27.67 L179.11,28.14 L180.12,28.61 L181.12,29.09 L182.13,29.57 L183.12,30.06 L184.12,30.56 L185.11,31.06 L186.10,31.56 L187.09,32.07 L188.07,32.59 L189.06,33.10 L190.04,33.62 L191.03,34.14 L192.01,34.66 L192.99,35.18 L193.98,35.70 L194.96,36.22 L195.95,36.73 L196.93,37.25 L197.92,37.76 L198.91,38.27 L199.90,38.77 L200.90,39.27 L201.89,39.77 L202.89,40.26 L203.88,40.76 L204.88,41.26 L205.88,41.75 L206.87,42.25 L207.86,42.75 L208.85,43.26 L209.84,43.76 L210.83,44.28 L211.81,44.80 L212.79,45.32 L213.76,45.85 L214.73,46.39 L215.70,46.94 L216.67,47.49 L217.63,48.05 L218.59,48.61 L219.55,49.17 L220.51,49.74 L221.46,50.31 L222.42,50.88 L223.37,51.46 L224.32,52.04 L225.27,52.62 L226.22,53.19 L227.17,53.78 L228.11,54.36 L229.06,54.94 L230.00,55.53 L230.95,56.12 L231.89,56.72 L232.83,57.31 L233.76,57.91 L234.70,58.51 L235.63,59.12 L236.56,59.72 L237.49,60.33 L238.42,60.95 L239.34,61.56 L240.27,62.19 L241.18,62.81 L242.10,63.44 L243.02,64.08 L243.93,64.71 L244.84,65.35 L245.75,65.99 L246.66,66.63 L247.56,67.27 L248.47,67.92 L249.38,68.56 L250.29,69.20 L251.20,69.84 L252.11,70.48 L253.02,71.12 L253.93,71.76 L254.84,72.40 L255.74,73.05 L256.65,73.70 L257.55,74.35 L258.44,75.01 L259.33,75.68 L260.21,76.36 L261.08,77.05 L261.94,77.74 L262.80,78.45 L263.66,79.16 L264.51,79.88 L265.36,80.60 L266.20,81.32 L267.05,82.04 L267.90,82.76 L268.74,83.48 L269.60,84.20 L270.45,84.92 L271.30,85.63 L272.16,86.34 L273.01,87.05 L273.87,87.77 L274.72,88.48 L275.57,89.20 L276.42,89.91 L277.27,90.63 L278.12,91.36 L278.96,92.09 L279.79,92.82 L280.63,93.55 L281.45,94.29 L282.27,95.04 L283.09,95.79 L283.91,96.55 L284.73,97.30 L285.56,98.06 L286.38,98.81 L287.20,99.58 L288.02,100.34 L288.84,101.11 L289.65,101.88 L290.46,102.66 L291.26,103.44 L292.05,104.23 L292.83,105.02 L293.60,105.82 L294.36,106.63 L295.11,107.45 L295.84,108.27 L296.56,109.11 L297.26,109.95 L297.94,110.80 L298.62,111.67 L299.29,112.54 L299.95,113.43 L300.60,114.33 L301.24,115.23 L301.88,116.15 L302.51,117.07 L303.13,118.00 L303.74,118.93 L304.35,119.87 L304.94,120.82 L305.54,121.77 L306.12,122.73 L306.70,123.69 L307.26,124.66 L307.83,125.62 L308.38,126.59 L308.93,127.56 L309.47,128.53 L310.00,129.51 L310.50,130.50" stroke="#f0f" stroke-width="3" stroke-dasharray="12 4.75" stroke-dashoffset="0.8"/>
</g>
<g clip-path="url(#cb)" fill="none" stroke-linejoin="round">
<path d="M40.40,235.45 L41.08,235.45 L41.76,235.45 L42.43,235.45 L43.11,235.44 L43.79,235.44 L44.46,235.43 L45.14,235.42 L45.81,235.42 L46.49,235.41 L47.16,235.40 L47.84,235.39 L48.51,235.38 L49.19,235.36 L49.86,235.35 L50.53,235.34 L51.21,235.32 L51.88,235.30 L52.55,235.28 L53.23,235.24 L53.90,235.18 L54.58,235.11 L55.25,235.03 L55.93,234.94 L56.60,234.83 L57.26,234.73 L57.92,234.61 L58.58,234.49 L59.23,234.33 L59.89,234.15 L60.54,233.94 L61.19,233.72 L61.82,233.48 L62.45,233.23 L63.06,232.97 L63.67,232.69 L64.26,232.38 L64.85,232.04 L65.43,231.67 L66.00,231.29 L66.56,230.91 L67.11,230.51 L67.65,230.12 L68.19,229.71 L68.72,229.29 L69.25,228.86 L69.77,228.41 L70.27,227.95 L70.76,227.48 L71.22,227.00 L71.67,226.51 L72.09,226.00 L72.50,225.46 L72.89,224.91 L73.27,224.35 L73.64,223.78 L74.01,223.21 L74.38,222.64 L74.75,222.07 L75.13,221.51 L75.50,220.94 L75.87,220.38 L76.24,219.81 L76.61,219.24 L76.97,218.67 L77.32,218.09 L77.67,217.52 L78.01,216.93 L78.34,216.35 L78.66,215.76 L78.98,215.16 L79.28,214.56 L79.58,213.95 L79.88,213.35 L80.18,212.74 L80.47,212.13 L80.76,211.52 L81.06,210.91 L81.35,210.30 L81.65,209.70 L81.95,209.09 L82.25,208.49 L82.55,207.88 L82.85,207.28 L83.15,206.67 L83.45,206.07 L83.75,205.46 L84.05,204.85 L84.35,204.25 L84.64,203.64 L84.93,203.03 L85.22,202.42 L85.51,201.81 L85.78,201.19 L86.06,200.57 L86.34,199.96 L86.62,199.34 L86.90,198.73 L87.19,198.12 L87.48,197.51 L87.79,196.91 L88.10,196.31 L88.41,195.71 L88.73,195.10 L89.05,194.50 L89.38,193.90 L89.72,193.30 L90.07,192.72 L90.44,192.15 L90.82,191.61 L91.22,191.09 L91.66,190.58 L92.12,190.06 L92.62,189.56 L93.15,189.11 L93.70,188.75 L94.28,188.49 L94.93,188.25 L95.60,188.08 L96.27,188.00 L96.92,188.07 L97.57,188.27 L98.22,188.56 L98.84,188.90 L99.41,189.25 L99.94,189.60 L100.44,190.03 L100.93,190.52 L101.39,191.04 L101.83,191.58 L102.25,192.13 L102.65,192.67 L103.04,193.21 L103.41,193.77 L103.77,194.35 L104.12,194.93 L104.46,195.52 L104.79,196.12 L105.10,196.72 L105.41,197.32 L105.71,197.92 L106.00,198.53 L106.28,199.14 L106.55,199.76 L106.82,200.38 L107.08,201.01 L107.33,201.64 L107.59,202.26 L107.84,202.89 L108.09,203.52 L108.33,204.15 L108.58,204.78 L108.82,205.41 L109.06,206.04 L109.29,206.67 L109.52,207.31 L109.75,207.94 L109.98,208.58 L110.21,209.22 L110.43,209.85 L110.65,210.49 L110.87,211.13 L111.09,211.77 L111.31,212.41 L111.52,213.05 L111.73,213.69 L111.93,214.34 L112.14,214.98 L112.34,215.62 L112.55,216.27 L112.75,216.91 L112.96,217.55 L113.17,218.20 L113.38,218.84 L113.59,219.48 L113.81,220.12 L114.02,220.76 L114.24,221.40 L114.46,222.04 L114.67,222.68 L114.89,223.32 L115.11,223.96 L115.33,224.59 L115.55,225.23 L115.78,225.87 L116.00,226.51 L116.23,227.14 L116.46,227.78 L116.69,228.41 L116.92,229.05 L117.15,229.68 L117.38,230.31 L117.62,230.95 L117.85,231.58 L118.08,232.22 L118.32,232.85 L118.55,233.48 L118.78,234.12 L119.01,234.75 L119.25,235.39 L119.49,236.02 L119.73,236.65 L119.96,237.29 L120.19,237.92 L120.42,238.56 L120.64,239.19 L120.85,239.84 L121.05,240.48 L121.24,241.12 L121.43,241.77 L121.61,242.42 L121.79,243.07 L121.97,243.72 L122.14,244.38 L122.31,245.03 L122.48,245.69 L122.65,246.34 L122.81,247.00 L122.98,247.65 L123.15,248.31 L123.32,248.96 L123.50,249.61 L123.67,250.26 L123.85,250.92 L124.02,251.57 L124.20,252.22 L124.38,252.87 L124.55,253.52 L124.73,254.18 L124.91,254.83 L125.08,255.48 L125.26,256.13 L125.44,256.78 L125.61,257.44 L125.79,258.09 L125.97,258.74 L126.14,259.39 L126.32,260.04 L126.50,260.70 L126.67,261.35 L126.85,262.00 L127.03,262.65 L127.20,263.30 L127.38,263.95 L127.56,264.61 L127.73,265.26 L127.91,265.91 L128.09,266.56 L128.26,267.21 L128.44,267.87 L128.62,268.52 L128.79,269.17 L128.97,269.82 L129.15,270.47 L129.32,271.12 L129.50,271.78 L129.68,272.43 L129.85,273.08 L130.03,273.73 L130.21,274.38 L130.38,275.04 L130.56,275.69 L130.74,276.34 L130.92,276.99 L131.09,277.64 L131.27,278.29 L131.45,278.95 L131.62,279.60 L131.80,280.25 L131.98,280.90 L132.15,281.55 L132.33,282.20 L132.51,282.86 L132.69,283.51 L132.86,284.16 L133.04,284.81 L133.22,285.46 L133.39,286.11 L133.57,286.77 L133.75,287.42 L133.93,288.07 L134.10,288.72 L134.28,289.37 L134.46,290.02 L134.64,290.68 L134.81,291.33 L134.99,291.98 L135.17,292.63 L135.35,293.28 L135.52,293.93 L135.70,294.59 L135.88,295.24 L136.06,295.89 L136.23,296.54 L136.41,297.19 L136.59,297.84 L136.77,298.50 L136.94,299.15 L137.12,299.80 L137.30,300.45" stroke="#000" stroke-width="1.4"/>
<path d="M40.40,235.45 L41.01,235.45 L41.63,235.45 L42.24,235.45 L42.85,235.44 L43.46,235.44 L44.08,235.43 L44.69,235.43 L45.30,235.42 L45.91,235.41 L46.52,235.41 L47.13,235.40 L47.74,235.39 L48.36,235.38 L48.97,235.37 L49.58,235.35 L50.19,235.34 L50.80,235.33 L51.41,235.31 L52.02,235.30 L52.63,235.28 L53.24,235.24 L53.85,235.20 L54.46,235.15 L55.07,235.09 L55.68,235.02 L56.29,234.94 L56.90,234.86 L57.50,234.77 L58.10,234.68 L58.70,234.58 L59.30,234.45 L59.90,234.31 L60.50,234.15 L61.09,233.97 L61.68,233.78 L62.25,233.58 L62.82,233.37 L63.37,233.15 L63.92,232.89 L64.46,232.61 L64.99,232.30 L65.52,231.97 L66.04,231.63 L66.55,231.29 L67.06,230.94 L67.56,230.59 L68.05,230.24 L68.55,229.87 L69.04,229.50 L69.52,229.11 L70.00,228.72 L70.46,228.31 L70.91,227.90 L71.34,227.47 L71.75,227.03 L72.14,226.57 L72.51,226.10 L72.88,225.60 L73.23,225.10 L73.58,224.60 L73.94,224.09 L74.29,223.59 L74.66,223.09 L75.03,222.61 L75.41,222.13 L75.80,221.65 L76.19,221.18 L76.58,220.71 L76.97,220.23 L77.35,219.76 L77.72,219.27 L78.08,218.78 L78.42,218.27 L78.74,217.76 L79.06,217.24 L79.37,216.71 L79.67,216.17 L79.97,215.64 L80.28,215.11 L80.59,214.58 L80.92,214.07 L81.25,213.56 L81.59,213.04 L81.93,212.53 L82.27,212.02 L82.62,211.51 L82.97,211.01 L83.33,210.51 L83.69,210.02 L84.06,209.53 L84.44,209.06 L84.82,208.59 L85.22,208.13 L85.62,207.66 L86.04,207.21 L86.46,206.76 L86.90,206.32 L87.35,205.90 L87.80,205.50 L88.27,205.12 L88.76,204.75 L89.26,204.37 L89.78,204.00 L90.31,203.67 L90.86,203.38 L91.41,203.17 L91.98,203.04 L92.58,202.93 L93.21,202.84 L93.83,202.76 L94.45,202.72 L95.03,202.70 L95.60,202.81 L96.15,203.07 L96.69,203.43 L97.21,203.82 L97.70,204.20 L98.17,204.58 L98.62,204.99 L99.05,205.44 L99.46,205.90 L99.87,206.36 L100.28,206.81 L100.68,207.28 L101.07,207.75 L101.45,208.23 L101.81,208.73 L102.15,209.23 L102.48,209.74 L102.79,210.26 L103.09,210.79 L103.39,211.33 L103.68,211.87 L103.97,212.41 L104.26,212.95 L104.56,213.49 L104.85,214.02 L105.14,214.56 L105.43,215.10 L105.72,215.64 L106.00,216.18 L106.29,216.72 L106.57,217.27 L106.85,217.81 L107.14,218.35 L107.42,218.89 L107.70,219.43 L107.99,219.98 L108.27,220.52 L108.55,221.06 L108.83,221.61 L109.11,222.15 L109.39,222.70 L109.66,223.24 L109.94,223.78 L110.22,224.33 L110.51,224.87 L110.79,225.41 L111.08,225.95 L111.38,226.48 L111.68,227.01 L111.98,227.54 L112.29,228.07 L112.60,228.60 L112.92,229.12 L113.23,229.65 L113.55,230.17 L113.88,230.69 L114.20,231.21 L114.52,231.73 L114.84,232.25 L115.17,232.77 L115.49,233.28 L115.82,233.80 L116.15,234.32 L116.48,234.83 L116.81,235.35 L117.14,235.86 L117.47,236.37 L117.80,236.89 L118.13,237.40 L118.46,237.92 L118.79,238.44 L119.11,238.95 L119.44,239.47 L119.77,239.99 L120.09,240.50 L120.42,241.02 L120.75,241.54 L121.07,242.05 L121.40,242.57 L121.72,243.09 L122.05,243.61 L122.38,244.12 L122.70,244.64 L123.02,245.16 L123.35,245.68 L123.67,246.20 L124.00,246.72 L124.32,247.24 L124.64,247.76 L124.96,248.28 L125.28,248.80 L125.60,249.32 L125.93,249.84 L126.25,250.35 L126.58,250.87 L126.90,251.39 L127.22,251.91 L127.55,252.43 L127.87,252.95 L128.20,253.47 L128.52,253.99 L128.84,254.51 L129.17,255.03 L129.49,255.55 L129.81,256.07 L130.13,256.59 L130.45,257.11 L130.77,257.64 L131.08,258.16 L131.39,258.69 L131.71,259.21 L132.02,259.74 L132.32,260.27 L132.63,260.80 L132.93,261.33 L133.23,261.86 L133.53,262.39 L133.82,262.92 L134.11,263.46 L134.40,264.00 L134.69,264.54 L134.97,265.08 L135.25,265.62 L135.53,266.16 L135.81,266.71 L136.09,267.25 L136.36,267.80 L136.63,268.35 L136.90,268.89 L137.17,269.44 L137.44,269.99 L137.71,270.54 L137.98,271.09 L138.24,271.64 L138.51,272.20 L138.78,272.75 L139.04,273.30 L139.31,273.85 L139.57,274.40 L139.84,274.95 L140.11,275.50 L140.38,276.05 L140.64,276.60 L140.91,277.15 L141.19,277.70 L141.46,278.25 L141.73,278.80 L142.01,279.34 L142.28,279.89 L142.56,280.43 L142.85,280.97 L143.13,281.52 L143.41,282.06 L143.70,282.60 L143.98,283.14 L144.27,283.68 L144.56,284.22 L144.85,284.75 L145.14,285.29 L145.43,285.83 L145.72,286.37 L146.01,286.91 L146.30,287.44 L146.60,287.98 L146.89,288.52 L147.18,289.06 L147.47,289.60 L147.76,290.13 L148.05,290.67 L148.34,291.21 L148.63,291.75 L148.92,292.29 L149.20,292.83 L149.49,293.37 L149.78,293.91 L150.06,294.45 L150.34,294.99 L150.62,295.54 L150.90,296.08 L151.18,296.62 L151.46,297.17 L151.73,297.72 L152.01,298.26 L152.28,298.81 L152.55,299.36 L152.83,299.90 L153.10,300.45" stroke="#f00" stroke-width="2.3" stroke-dasharray="13.5 4" stroke-dashoffset="4"/>
<path d="M40.40,235.45 L40.95,235.45 L41.50,235.45 L42.05,235.45 L42.61,235.45 L43.16,235.44 L43.71,235.44 L44.26,235.44 L44.81,235.43 L45.36,235.43 L45.92,235.43 L46.47,235.42 L47.02,235.41 L47.57,235.41 L48.12,235.40 L48.67,235.40 L49.22,235.39 L49.77,235.38 L50.33,235.37 L50.88,235.37 L51.43,235.36 L51.98,235.35 L52.53,235.34 L53.08,235.33 L53.63,235.32 L54.18,235.31 L54.73,235.30 L55.29,235.29 L55.84,235.28 L56.39,235.26 L56.94,235.24 L57.49,235.22 L58.04,235.20 L58.59,235.17 L59.14,235.15 L59.69,235.12 L60.24,235.09 L60.79,235.06 L61.35,235.03 L61.90,235.01 L62.45,234.98 L63.00,234.95 L63.55,234.93 L64.10,234.90 L64.65,234.87 L65.21,234.85 L65.76,234.82 L66.31,234.78 L66.86,234.75 L67.41,234.71 L67.96,234.67 L68.50,234.63 L69.05,234.58 L69.59,234.51 L70.14,234.43 L70.68,234.35 L71.23,234.25 L71.77,234.14 L72.32,234.02 L72.86,233.89 L73.39,233.76 L73.93,233.62 L74.46,233.48 L75.00,233.34 L75.52,233.19 L76.05,233.04 L76.57,232.88 L77.10,232.71 L77.62,232.52 L78.14,232.33 L78.66,232.13 L79.18,231.92 L79.69,231.70 L80.20,231.48 L80.70,231.24 L81.20,231.01 L81.69,230.76 L82.17,230.51 L82.65,230.26 L83.11,229.98 L83.58,229.68 L84.03,229.38 L84.48,229.06 L84.93,228.73 L85.38,228.39 L85.82,228.06 L86.26,227.72 L86.70,227.38 L87.14,227.04 L87.58,226.71 L88.03,226.38 L88.47,226.05 L88.90,225.71 L89.34,225.37 L89.77,225.03 L90.20,224.69 L90.63,224.34 L91.07,224.00 L91.50,223.66 L91.93,223.32 L92.37,222.98 L92.81,222.65 L93.25,222.32 L93.70,222.00 L94.15,221.68 L94.59,221.35 L95.04,221.02 L95.50,220.70 L95.96,220.39 L96.43,220.10 L96.91,219.85 L97.40,219.60 L97.90,219.35 L98.41,219.09 L98.93,218.85 L99.45,218.65 L99.98,218.50 L100.51,218.41 L101.05,218.40 L101.60,218.45 L102.16,218.52 L102.71,218.62 L103.25,218.74 L103.76,218.88 L104.25,219.08 L104.74,219.36 L105.21,219.67 L105.67,220.01 L106.12,220.34 L106.55,220.67 L106.97,221.02 L107.38,221.39 L107.79,221.77 L108.18,222.16 L108.57,222.56 L108.96,222.96 L109.34,223.35 L109.72,223.75 L110.10,224.15 L110.47,224.57 L110.83,224.98 L111.18,225.40 L111.53,225.83 L111.86,226.27 L112.18,226.72 L112.49,227.17 L112.80,227.62 L113.10,228.09 L113.40,228.55 L113.70,229.02 L114.00,229.48 L114.29,229.95 L114.59,230.42 L114.89,230.88 L115.19,231.34 L115.50,231.80 L115.80,232.26 L116.10,232.72 L116.41,233.18 L116.71,233.65 L117.01,234.11 L117.32,234.57 L117.62,235.03 L117.93,235.48 L118.24,235.94 L118.55,236.39 L118.87,236.84 L119.19,237.29 L119.52,237.73 L119.85,238.18 L120.18,238.62 L120.51,239.05 L120.85,239.49 L121.18,239.93 L121.52,240.37 L121.85,240.81 L122.19,241.25 L122.52,241.69 L122.84,242.13 L123.17,242.58 L123.49,243.03 L123.81,243.48 L124.13,243.93 L124.45,244.38 L124.76,244.83 L125.08,245.28 L125.39,245.74 L125.70,246.19 L126.01,246.65 L126.32,247.11 L126.62,247.57 L126.92,248.03 L127.21,248.50 L127.50,248.97 L127.78,249.44 L128.06,249.91 L128.33,250.39 L128.60,250.88 L128.87,251.36 L129.13,251.84 L129.39,252.33 L129.66,252.81 L129.93,253.30 L130.20,253.78 L130.47,254.25 L130.76,254.73 L131.05,255.19 L131.34,255.66 L131.65,256.12 L131.96,256.57 L132.27,257.03 L132.59,257.48 L132.91,257.94 L133.22,258.39 L133.53,258.85 L133.84,259.31 L134.14,259.77 L134.43,260.24 L134.70,260.71 L134.98,261.19 L135.24,261.67 L135.50,262.15 L135.75,262.64 L136.00,263.14 L136.25,263.63 L136.49,264.12 L136.73,264.62 L136.98,265.12 L137.22,265.62 L137.46,266.11 L137.70,266.61 L137.95,267.10 L138.19,267.60 L138.42,268.10 L138.66,268.60 L138.89,269.10 L139.13,269.59 L139.36,270.09 L139.60,270.59 L139.84,271.09 L140.08,271.58 L140.33,272.07 L140.58,272.56 L140.84,273.05 L141.10,273.53 L141.38,274.01 L141.65,274.49 L141.93,274.97 L142.21,275.44 L142.49,275.92 L142.77,276.39 L143.05,276.87 L143.33,277.34 L143.61,277.82 L143.88,278.30 L144.16,278.78 L144.43,279.26 L144.70,279.74 L144.97,280.22 L145.23,280.70 L145.50,281.18 L145.77,281.66 L146.04,282.15 L146.30,282.63 L146.57,283.11 L146.84,283.59 L147.10,284.08 L147.37,284.56 L147.63,285.04 L147.90,285.52 L148.17,286.01 L148.45,286.49 L148.72,286.97 L148.99,287.45 L149.26,287.93 L149.52,288.41 L149.79,288.90 L150.04,289.39 L150.29,289.88 L150.53,290.37 L150.77,290.87 L151.00,291.37 L151.22,291.87 L151.43,292.38 L151.65,292.89 L151.86,293.40 L152.07,293.91 L152.28,294.42 L152.49,294.93 L152.70,295.44 L152.91,295.95 L153.13,296.46 L153.35,296.96 L153.57,297.46 L153.81,297.96 L154.04,298.46 L154.28,298.96 L154.52,299.46 L154.76,299.95 L155.00,300.45" stroke="#00f" stroke-width="3.2" stroke-dasharray="3.3 3.55"/>
</g>
<g clip-path="url(#cc)" fill="none" stroke-linejoin="round">
<path d="M196.90,235.45 L197.58,235.45 L198.26,235.45 L198.93,235.45 L199.61,235.44 L200.29,235.44 L200.96,235.43 L201.64,235.42 L202.31,235.42 L202.99,235.41 L203.66,235.40 L204.34,235.39 L205.01,235.38 L205.69,235.36 L206.36,235.35 L207.03,235.34 L207.71,235.32 L208.38,235.30 L209.05,235.28 L209.73,235.24 L210.40,235.18 L211.08,235.11 L211.75,235.03 L212.43,234.94 L213.10,234.83 L213.76,234.73 L214.42,234.61 L215.08,234.49 L215.73,234.33 L216.39,234.15 L217.04,233.94 L217.69,233.72 L218.32,233.48 L218.95,233.23 L219.56,232.97 L220.17,232.69 L220.76,232.38 L221.35,232.04 L221.93,231.67 L222.50,231.29 L223.06,230.91 L223.61,230.51 L224.15,230.12 L224.69,229.71 L225.22,229.29 L225.75,228.86 L226.27,228.41 L226.77,227.95 L227.26,227.48 L227.72,227.00 L228.17,226.51 L228.59,226.00 L229.00,225.46 L229.39,224.91 L229.77,224.35 L230.14,223.78 L230.51,223.21 L230.88,222.64 L231.25,222.07 L231.63,221.51 L232.00,220.94 L232.37,220.38 L232.74,219.81 L233.11,219.24 L233.47,218.67 L233.82,218.09 L234.17,217.52 L234.51,216.93 L234.84,216.35 L235.16,215.76 L235.48,215.16 L235.78,214.56 L236.08,213.95 L236.38,213.35 L236.68,212.74 L236.97,212.13 L237.26,211.52 L237.56,210.91 L237.85,210.30 L238.15,209.70 L238.45,209.09 L238.75,208.49 L239.05,207.88 L239.35,207.28 L239.65,206.67 L239.95,206.07 L240.25,205.46 L240.55,204.85 L240.85,204.25 L241.14,203.64 L241.43,203.03 L241.72,202.42 L242.01,201.81 L242.28,201.19 L242.56,200.57 L242.84,199.96 L243.12,199.34 L243.40,198.73 L243.69,198.12 L243.98,197.51 L244.29,196.91 L244.60,196.31 L244.91,195.71 L245.23,195.10 L245.55,194.50 L245.88,193.90 L246.22,193.30 L246.57,192.72 L246.94,192.15 L247.32,191.61 L247.72,191.09 L248.16,190.58 L248.62,190.06 L249.12,189.56 L249.65,189.11 L250.20,188.75 L250.78,188.49 L251.43,188.25 L252.10,188.08 L252.77,188.00 L253.42,188.07 L254.07,188.27 L254.72,188.56 L255.34,188.90 L255.91,189.25 L256.44,189.60 L256.94,190.03 L257.43,190.52 L257.89,191.04 L258.33,191.58 L258.75,192.13 L259.15,192.67 L259.54,193.21 L259.91,193.77 L260.27,194.35 L260.62,194.93 L260.96,195.52 L261.29,196.12 L261.60,196.72 L261.91,197.32 L262.21,197.92 L262.50,198.53 L262.78,199.14 L263.05,199.76 L263.32,200.38 L263.58,201.01 L263.83,201.64 L264.09,202.26 L264.34,202.89 L264.59,203.52 L264.83,204.15 L265.08,204.78 L265.32,205.41 L265.56,206.04 L265.79,206.67 L266.02,207.31 L266.25,207.94 L266.48,208.58 L266.71,209.22 L266.93,209.85 L267.15,210.49 L267.37,211.13 L267.59,211.77 L267.81,212.41 L268.02,213.05 L268.23,213.69 L268.43,214.34 L268.64,214.98 L268.84,215.62 L269.05,216.27 L269.25,216.91 L269.46,217.55 L269.67,218.20 L269.88,218.84 L270.09,219.48 L270.31,220.12 L270.52,220.76 L270.74,221.40 L270.96,222.04 L271.17,222.68 L271.39,223.32 L271.61,223.96 L271.83,224.59 L272.05,225.23 L272.28,225.87 L272.50,226.51 L272.73,227.14 L272.96,227.78 L273.19,228.41 L273.42,229.05 L273.65,229.68 L273.88,230.31 L274.12,230.95 L274.35,231.58 L274.58,232.22 L274.82,232.85 L275.05,233.48 L275.28,234.12 L275.51,234.75 L275.75,235.39 L275.99,236.02 L276.23,236.65 L276.46,237.29 L276.69,237.92 L276.92,238.56 L277.14,239.19 L277.35,239.84 L277.55,240.48 L277.74,241.12 L277.93,241.77 L278.11,242.42 L278.29,243.07 L278.47,243.72 L278.64,244.38 L278.81,245.03 L278.98,245.69 L279.15,246.34 L279.31,247.00 L279.48,247.65 L279.65,248.31 L279.82,248.96 L280.00,249.61 L280.17,250.26 L280.35,250.92 L280.52,251.57 L280.70,252.22 L280.88,252.87 L281.05,253.52 L281.23,254.18 L281.41,254.83 L281.58,255.48 L281.76,256.13 L281.94,256.78 L282.11,257.44 L282.29,258.09 L282.47,258.74 L282.64,259.39 L282.82,260.04 L283.00,260.70 L283.17,261.35 L283.35,262.00 L283.53,262.65 L283.70,263.30 L283.88,263.95 L284.06,264.61 L284.23,265.26 L284.41,265.91 L284.59,266.56 L284.76,267.21 L284.94,267.87 L285.12,268.52 L285.29,269.17 L285.47,269.82 L285.65,270.47 L285.82,271.12 L286.00,271.78 L286.18,272.43 L286.35,273.08 L286.53,273.73 L286.71,274.38 L286.88,275.04 L287.06,275.69 L287.24,276.34 L287.42,276.99 L287.59,277.64 L287.77,278.29 L287.95,278.95 L288.12,279.60 L288.30,280.25 L288.48,280.90 L288.65,281.55 L288.83,282.20 L289.01,282.86 L289.19,283.51 L289.36,284.16 L289.54,284.81 L289.72,285.46 L289.89,286.11 L290.07,286.77 L290.25,287.42 L290.43,288.07 L290.60,288.72 L290.78,289.37 L290.96,290.02 L291.14,290.68 L291.31,291.33 L291.49,291.98 L291.67,292.63 L291.85,293.28 L292.02,293.93 L292.20,294.59 L292.38,295.24 L292.56,295.89 L292.73,296.54 L292.91,297.19 L293.09,297.84 L293.27,298.50 L293.44,299.15 L293.62,299.80 L293.80,300.45" stroke="#000" stroke-width="1.4"/>
<path d="M196.90,235.45 L197.45,235.45 L198.01,235.45 L198.56,235.45 L199.12,235.45 L199.67,235.45 L200.22,235.45 L200.78,235.45 L201.33,235.45 L201.89,235.45 L202.44,235.45 L202.99,235.44 L203.55,235.44 L204.10,235.44 L204.65,235.44 L205.21,235.44 L205.76,235.44 L206.32,235.44 L206.87,235.44 L207.42,235.43 L207.98,235.43 L208.53,235.43 L209.08,235.43 L209.64,235.43 L210.19,235.42 L210.75,235.42 L211.30,235.42 L211.85,235.42 L212.41,235.41 L212.96,235.41 L213.51,235.41 L214.07,235.41 L214.62,235.40 L215.17,235.40 L215.73,235.39 L216.28,235.39 L216.84,235.38 L217.39,235.36 L217.95,235.35 L218.50,235.33 L219.06,235.31 L219.61,235.29 L220.16,235.26 L220.72,235.24 L221.27,235.21 L221.82,235.17 L222.37,235.14 L222.92,235.11 L223.47,235.06 L224.02,234.98 L224.57,234.89 L225.12,234.79 L225.66,234.67 L226.20,234.56 L226.74,234.43 L227.27,234.28 L227.80,234.13 L228.33,233.96 L228.86,233.79 L229.38,233.61 L229.90,233.42 L230.42,233.22 L230.93,233.01 L231.44,232.79 L231.95,232.57 L232.45,232.33 L232.96,232.10 L233.46,231.86 L233.96,231.62 L234.45,231.38 L234.95,231.14 L235.46,230.90 L235.96,230.65 L236.45,230.40 L236.95,230.14 L237.44,229.87 L237.92,229.60 L238.39,229.32 L238.86,229.03 L239.31,228.72 L239.75,228.40 L240.18,228.06 L240.60,227.71 L241.02,227.34 L241.43,226.96 L241.84,226.58 L242.24,226.20 L242.65,225.82 L243.07,225.45 L243.48,225.08 L243.91,224.73 L244.34,224.37 L244.76,224.01 L245.19,223.66 L245.61,223.30 L246.05,222.95 L246.48,222.60 L246.92,222.27 L247.36,221.94 L247.81,221.62 L248.27,221.32 L248.74,221.01 L249.21,220.71 L249.68,220.41 L250.17,220.13 L250.66,219.87 L251.15,219.64 L251.66,219.44 L252.17,219.23 L252.70,219.03 L253.23,218.83 L253.77,218.66 L254.31,218.52 L254.86,218.43 L255.40,218.40 L255.94,218.41 L256.50,218.45 L257.06,218.50 L257.61,218.58 L258.16,218.66 L258.71,218.75 L259.24,218.85 L259.77,219.00 L260.30,219.19 L260.82,219.41 L261.33,219.65 L261.82,219.90 L262.29,220.17 L262.75,220.46 L263.20,220.79 L263.64,221.14 L264.07,221.50 L264.49,221.86 L264.92,222.22 L265.35,222.57 L265.77,222.93 L266.19,223.29 L266.61,223.66 L267.01,224.03 L267.41,224.42 L267.81,224.80 L268.20,225.19 L268.58,225.59 L268.97,225.99 L269.35,226.39 L269.72,226.79 L270.10,227.20 L270.47,227.61 L270.84,228.02 L271.21,228.44 L271.58,228.86 L271.94,229.28 L272.30,229.70 L272.66,230.13 L273.01,230.55 L273.37,230.98 L273.72,231.41 L274.07,231.84 L274.42,232.27 L274.76,232.70 L275.11,233.13 L275.45,233.57 L275.79,234.00 L276.14,234.44 L276.48,234.87 L276.82,235.31 L277.16,235.75 L277.50,236.19 L277.83,236.63 L278.17,237.08 L278.50,237.52 L278.84,237.97 L279.16,238.42 L279.49,238.87 L279.81,239.32 L280.13,239.77 L280.45,240.23 L280.77,240.69 L281.08,241.15 L281.38,241.61 L281.68,242.07 L281.98,242.53 L282.28,243.00 L282.56,243.47 L282.85,243.94 L283.13,244.42 L283.40,244.90 L283.66,245.38 L283.92,245.87 L284.17,246.36 L284.42,246.86 L284.67,247.35 L284.91,247.85 L285.15,248.35 L285.39,248.85 L285.64,249.35 L285.88,249.85 L286.12,250.35 L286.37,250.84 L286.62,251.34 L286.87,251.84 L287.11,252.33 L287.36,252.83 L287.60,253.33 L287.85,253.82 L288.09,254.32 L288.33,254.82 L288.58,255.32 L288.82,255.81 L289.06,256.31 L289.30,256.81 L289.55,257.31 L289.79,257.80 L290.03,258.30 L290.28,258.80 L290.52,259.30 L290.76,259.80 L291.01,260.29 L291.25,260.79 L291.49,261.29 L291.74,261.78 L291.98,262.28 L292.23,262.78 L292.48,263.27 L292.72,263.77 L292.97,264.26 L293.22,264.76 L293.47,265.25 L293.72,265.74 L293.98,266.24 L294.23,266.73 L294.48,267.22 L294.73,267.71 L294.98,268.21 L295.24,268.70 L295.49,269.19 L295.74,269.69 L295.99,270.18 L296.25,270.67 L296.50,271.16 L296.76,271.65 L297.01,272.15 L297.26,272.64 L297.52,273.13 L297.77,273.62 L298.03,274.11 L298.28,274.60 L298.54,275.10 L298.79,275.59 L299.05,276.08 L299.31,276.57 L299.56,277.06 L299.82,277.55 L300.08,278.04 L300.33,278.53 L300.59,279.02 L300.85,279.51 L301.11,280.00 L301.37,280.49 L301.62,280.98 L301.88,281.47 L302.14,281.96 L302.40,282.45 L302.66,282.94 L302.92,283.43 L303.18,283.92 L303.44,284.41 L303.70,284.89 L303.96,285.38 L304.22,285.87 L304.48,286.36 L304.75,286.85 L305.01,287.34 L305.27,287.82 L305.53,288.31 L305.80,288.80 L306.06,289.29 L306.32,289.77 L306.59,290.26 L306.85,290.75 L307.11,291.23 L307.38,291.72 L307.64,292.21 L307.91,292.69 L308.18,293.18 L308.44,293.67 L308.71,294.15 L308.97,294.64 L309.24,295.12 L309.51,295.61 L309.78,296.09 L310.04,296.58 L310.31,297.06 L310.58,297.55 L310.85,298.03 L311.12,298.51 L311.39,299.00 L311.66,299.48 L311.93,299.97 L312.20,300.45" stroke="#f00" stroke-width="2.3" stroke-dasharray="13.5 4" stroke-dashoffset="4"/>
<path d="M196.90,235.45 L197.52,235.45 L198.13,235.45 L198.75,235.45 L199.37,235.45 L199.98,235.44 L200.60,235.44 L201.21,235.43 L201.83,235.43 L202.44,235.42 L203.06,235.42 L203.67,235.41 L204.28,235.40 L204.90,235.40 L205.51,235.39 L206.12,235.38 L206.74,235.37 L207.35,235.36 L207.96,235.34 L208.57,235.33 L209.18,235.32 L209.80,235.30 L210.41,235.29 L211.02,235.25 L211.64,235.20 L212.25,235.13 L212.86,235.05 L213.47,234.96 L214.08,234.86 L214.68,234.76 L215.28,234.64 L215.87,234.50 L216.46,234.32 L217.04,234.11 L217.62,233.89 L218.19,233.66 L218.76,233.44 L219.33,233.20 L219.89,232.96 L220.45,232.70 L221.01,232.43 L221.56,232.16 L222.11,231.87 L222.65,231.58 L223.19,231.28 L223.72,230.97 L224.24,230.65 L224.75,230.32 L225.26,229.97 L225.76,229.61 L226.25,229.24 L226.73,228.85 L227.20,228.46 L227.66,228.06 L228.12,227.64 L228.56,227.22 L229.00,226.78 L229.43,226.33 L229.83,225.87 L230.22,225.40 L230.59,224.92 L230.94,224.43 L231.29,223.92 L231.62,223.41 L231.94,222.88 L232.26,222.35 L232.57,221.82 L232.88,221.28 L233.18,220.74 L233.49,220.21 L233.80,219.67 L234.11,219.14 L234.41,218.61 L234.70,218.07 L235.00,217.53 L235.29,216.98 L235.57,216.44 L235.86,215.90 L236.15,215.35 L236.45,214.82 L236.75,214.28 L237.06,213.75 L237.38,213.23 L237.71,212.71 L238.03,212.19 L238.36,211.66 L238.70,211.14 L239.04,210.62 L239.38,210.10 L239.73,209.59 L240.09,209.08 L240.46,208.59 L240.84,208.11 L241.23,207.64 L241.63,207.19 L242.04,206.76 L242.48,206.33 L242.93,205.92 L243.41,205.52 L243.90,205.14 L244.41,204.78 L244.92,204.45 L245.45,204.14 L245.99,203.84 L246.55,203.57 L247.12,203.35 L247.71,203.19 L248.31,203.04 L248.92,202.91 L249.53,202.82 L250.14,202.80 L250.75,202.85 L251.36,202.96 L251.97,203.10 L252.56,203.26 L253.13,203.44 L253.68,203.69 L254.23,203.99 L254.76,204.32 L255.28,204.66 L255.79,205.00 L256.30,205.35 L256.79,205.73 L257.27,206.12 L257.73,206.53 L258.16,206.96 L258.56,207.40 L258.95,207.86 L259.33,208.34 L259.69,208.83 L260.05,209.33 L260.40,209.84 L260.74,210.36 L261.08,210.88 L261.42,211.41 L261.75,211.93 L262.09,212.45 L262.44,212.96 L262.78,213.47 L263.13,213.97 L263.48,214.48 L263.82,214.99 L264.17,215.50 L264.51,216.01 L264.85,216.52 L265.20,217.03 L265.54,217.54 L265.88,218.05 L266.22,218.56 L266.55,219.07 L266.89,219.58 L267.23,220.10 L267.57,220.61 L267.91,221.12 L268.26,221.63 L268.60,222.14 L268.95,222.65 L269.30,223.16 L269.65,223.66 L269.99,224.17 L270.34,224.68 L270.69,225.19 L271.04,225.70 L271.38,226.21 L271.73,226.72 L272.07,227.23 L272.40,227.74 L272.74,228.26 L273.07,228.78 L273.40,229.29 L273.72,229.81 L274.04,230.34 L274.35,230.86 L274.66,231.39 L274.96,231.92 L275.25,232.46 L275.54,232.99 L275.83,233.53 L276.11,234.08 L276.39,234.62 L276.66,235.17 L276.93,235.72 L277.20,236.27 L277.46,236.82 L277.73,237.38 L277.99,237.93 L278.24,238.49 L278.50,239.05 L278.75,239.61 L279.01,240.17 L279.26,240.73 L279.51,241.30 L279.76,241.86 L280.01,242.42 L280.26,242.98 L280.51,243.55 L280.76,244.11 L281.01,244.67 L281.26,245.23 L281.52,245.80 L281.77,246.36 L282.03,246.92 L282.28,247.48 L282.54,248.03 L282.80,248.59 L283.07,249.14 L283.33,249.70 L283.60,250.25 L283.86,250.81 L284.13,251.36 L284.39,251.91 L284.66,252.47 L284.92,253.02 L285.19,253.58 L285.45,254.13 L285.72,254.68 L285.99,255.24 L286.25,255.79 L286.52,256.34 L286.79,256.90 L287.05,257.45 L287.32,258.00 L287.59,258.56 L287.86,259.11 L288.12,259.66 L288.39,260.21 L288.66,260.76 L288.93,261.32 L289.20,261.87 L289.47,262.42 L289.74,262.97 L290.02,263.52 L290.29,264.07 L290.56,264.62 L290.84,265.17 L291.11,265.72 L291.38,266.27 L291.66,266.82 L291.93,267.37 L292.21,267.91 L292.49,268.46 L292.76,269.01 L293.04,269.56 L293.32,270.11 L293.60,270.65 L293.87,271.20 L294.15,271.75 L294.43,272.30 L294.71,272.84 L294.99,273.39 L295.27,273.94 L295.55,274.48 L295.84,275.03 L296.12,275.57 L296.40,276.12 L296.68,276.66 L296.96,277.21 L297.25,277.75 L297.53,278.30 L297.82,278.84 L298.10,279.39 L298.38,279.93 L298.67,280.48 L298.96,281.02 L299.24,281.56 L299.53,282.11 L299.81,282.65 L300.10,283.19 L300.39,283.73 L300.68,284.28 L300.97,284.82 L301.25,285.36 L301.54,285.90 L301.83,286.44 L302.12,286.99 L302.41,287.53 L302.70,288.07 L302.99,288.61 L303.29,289.15 L303.58,289.69 L303.87,290.23 L304.16,290.77 L304.46,291.31 L304.75,291.85 L305.04,292.39 L305.34,292.93 L305.63,293.46 L305.93,294.00 L306.22,294.54 L306.52,295.08 L306.82,295.62 L307.11,296.16 L307.41,296.69 L307.71,297.23 L308.00,297.77 L308.30,298.30 L308.60,298.84 L308.90,299.38 L309.20,299.91 L309.50,300.45" stroke="#00f" stroke-width="3.2" stroke-dasharray="3.3 3.55"/>
</g>
<path d="M40.20,130.50L40.20,126.50M75.59,130.50L75.59,128.50M110.98,130.50L110.98,126.50M146.36,130.50L146.36,128.50M181.75,130.50L181.75,126.50M217.14,130.50L217.14,128.50M252.53,130.50L252.53,126.50M287.91,130.50L287.91,128.50M323.30,130.50L323.30,126.50M40.20,130.50L42.20,130.50M323.30,130.50L321.30,130.50M40.20,117.53L44.20,117.53M323.30,117.53L319.30,117.53M40.20,104.55L42.20,104.55M323.30,104.55L321.30,104.55M40.20,91.58L44.20,91.58M323.30,91.58L319.30,91.58M40.20,78.60L42.20,78.60M323.30,78.60L321.30,78.60M40.20,65.62L44.20,65.62M323.30,65.62L319.30,65.62M40.20,52.65L42.20,52.65M323.30,52.65L321.30,52.65M40.20,39.67L44.20,39.67M323.30,39.67L319.30,39.67M40.20,26.70L42.20,26.70M323.30,26.70L321.30,26.70M40.20,13.73L44.20,13.73M323.30,13.73L319.30,13.73M40.20,0.75L42.20,0.75M323.30,0.75L321.30,0.75M40.40,300.45L40.40,296.45M61.43,300.45L61.43,298.45M82.47,300.45L82.47,296.45M103.50,300.45L103.50,298.45M124.53,300.45L124.53,296.45M145.57,300.45L145.57,298.45M166.60,300.45L166.60,296.45M40.40,300.45L42.40,300.45M166.60,300.45L164.60,300.45M40.40,287.46L44.40,287.46M166.60,287.46L162.60,287.46M40.40,274.48L42.40,274.48M166.60,274.48L164.60,274.48M40.40,261.50L44.40,261.50M166.60,261.50L162.60,261.50M40.40,248.51L42.40,248.51M166.60,248.51L164.60,248.51M40.40,235.52L44.40,235.52M166.60,235.52L162.60,235.52M40.40,222.54L42.40,222.54M166.60,222.54L164.60,222.54M40.40,209.55L44.40,209.55M166.60,209.55L162.60,209.55M40.40,196.57L42.40,196.57M166.60,196.57L164.60,196.57M40.40,183.58L44.40,183.58M166.60,183.58L162.60,183.58M40.40,170.60L42.40,170.60M166.60,170.60L164.60,170.60M196.90,300.45L196.90,296.45M217.97,300.45L217.97,298.45M239.03,300.45L239.03,296.45M260.10,300.45L260.10,298.45M281.17,300.45L281.17,296.45M302.23,300.45L302.23,298.45M323.30,300.45L323.30,296.45M196.90,300.45L198.90,300.45M323.30,300.45L321.30,300.45M196.90,287.46L200.90,287.46M323.30,287.46L319.30,287.46M196.90,274.48L198.90,274.48M323.30,274.48L321.30,274.48M196.90,261.50L200.90,261.50M323.30,261.50L319.30,261.50M196.90,248.51L198.90,248.51M323.30,248.51L321.30,248.51M196.90,235.52L200.90,235.52M323.30,235.52L319.30,235.52M196.90,222.54L198.90,222.54M323.30,222.54L321.30,222.54M196.90,209.55L200.90,209.55M323.30,209.55L319.30,209.55M196.90,196.57L198.90,196.57M323.30,196.57L321.30,196.57M196.90,183.58L200.90,183.58M323.30,183.58L319.30,183.58M196.90,170.60L198.90,170.60M323.30,170.60L321.30,170.60" stroke="#000" stroke-width="1" fill="none"/>
<rect x="40.2" y="0.75" width="283.1" height="129.75" fill="none" stroke="#111" stroke-width="1.25"/>
<rect x="40.4" y="170.6" width="126.19999999999999" height="129.85" fill="none" stroke="#111" stroke-width="1.25"/>
<rect x="196.9" y="170.6" width="126.4" height="129.85" fill="none" stroke="#111" stroke-width="1.25"/>
<g style="will-change:transform;opacity:0.999">
<text x="40.2" y="143.5" font-size="12.3" text-anchor="middle" fill="#000" >-50</text>
<text x="110.98" y="143.5" font-size="12.3" text-anchor="middle" fill="#000" >0</text>
<text x="181.75" y="143.5" font-size="12.3" text-anchor="middle" fill="#000" >50</text>
<text x="252.53" y="143.5" font-size="12.3" text-anchor="middle" fill="#000" >100</text>
<text x="324.3" y="143.5" font-size="12.3" text-anchor="middle" fill="#000" >150</text>
<text x="37.6" y="121.83" font-size="12.3" text-anchor="end" fill="#000" >-2</text>
<text x="37.6" y="95.88" font-size="12.3" text-anchor="end" fill="#000" >-1</text>
<text x="37.6" y="69.92" font-size="12.3" text-anchor="end" fill="#000" >0</text>
<text x="37.6" y="43.97" font-size="12.3" text-anchor="end" fill="#000" >1</text>
<text x="37.6" y="18.03" font-size="12.3" text-anchor="end" fill="#000" >2</text>
<text x="40.4" y="313.2" font-size="12.3" text-anchor="middle" fill="#000" >-40</text>
<text x="82.47" y="313.2" font-size="12.3" text-anchor="middle" fill="#000" >0</text>
<text x="124.53" y="313.2" font-size="12.3" text-anchor="middle" fill="#000" >40</text>
<text x="166.6" y="313.2" font-size="12.3" text-anchor="middle" fill="#000" >80</text>
<text x="37.8" y="291.76" font-size="12.3" text-anchor="end" fill="#000" >-0.6</text>
<text x="37.8" y="265.8" font-size="12.3" text-anchor="end" fill="#000" >-0.3</text>
<text x="37.8" y="239.82" font-size="12.3" text-anchor="end" fill="#000" >0</text>
<text x="37.8" y="213.86" font-size="12.3" text-anchor="end" fill="#000" >0.3</text>
<text x="37.8" y="187.88" font-size="12.3" text-anchor="end" fill="#000" >0.6</text>
<text x="196.9" y="313.2" font-size="12.3" text-anchor="middle" fill="#000" >-40</text>
<text x="239.03" y="313.2" font-size="12.3" text-anchor="middle" fill="#000" >0</text>
<text x="281.17" y="313.2" font-size="12.3" text-anchor="middle" fill="#000" >40</text>
<text x="323.3" y="313.2" font-size="12.3" text-anchor="middle" fill="#000" >80</text>
<text x="194.3" y="291.76" font-size="12.3" text-anchor="end" fill="#000" >-0.6</text>
<text x="194.3" y="265.8" font-size="12.3" text-anchor="end" fill="#000" >-0.3</text>
<text x="194.3" y="239.82" font-size="12.3" text-anchor="end" fill="#000" >0</text>
<text x="194.3" y="213.86" font-size="12.3" text-anchor="end" fill="#000" >0.3</text>
<text x="194.3" y="187.88" font-size="12.3" text-anchor="end" fill="#000" >0.6</text>
<text x="182.2" y="156.5" font-size="12.45" text-anchor="middle" fill="#000" >E<tspan dy="3.5" font-size="10.3">ph</tspan><tspan dy="-3.5" font-size="0.1">&#8203;</tspan> - E<tspan dy="3.5" font-size="10.3">g</tspan><tspan dy="-3.5" font-size="0.1">&#8203;</tspan> (meV)</text>
<text x="103.7" y="326.5" font-size="12.45" text-anchor="middle" fill="#000" >E<tspan dy="3.5" font-size="10.3">ph</tspan><tspan dy="-3.5" font-size="0.1">&#8203;</tspan> - E<tspan dy="3.5" font-size="10.3">g</tspan><tspan dy="-3.5" font-size="0.1">&#8203;</tspan> (meV)</text>
<text x="260.1" y="326.5" font-size="12.45" text-anchor="middle" fill="#000" >E<tspan dy="3.5" font-size="10.3">ph</tspan><tspan dy="-3.5" font-size="0.1">&#8203;</tspan> - E<tspan dy="3.5" font-size="10.3">g</tspan><tspan dy="-3.5" font-size="0.1">&#8203;</tspan> (meV)</text>
<text transform="translate(19.6,65.1) rotate(-90)" font-size="12.2" text-anchor="middle">Gain (10<tspan dy="-6.0" font-size="10.0">4</tspan><tspan dy="6.0" font-size="0.1">&#8203;</tspan> cm<tspan dy="-6.0" font-size="10.0">-1</tspan><tspan dy="6.0" font-size="0.1">&#8203;</tspan>)</text>
<text transform="translate(13.9,235.8) rotate(-90)" font-size="12.2" text-anchor="middle">Gain (10<tspan dy="-6.0" font-size="10.0">4</tspan><tspan dy="6.0" font-size="0.1">&#8203;</tspan> cm<tspan dy="-6.0" font-size="10.0">-1</tspan><tspan dy="6.0" font-size="0.1">&#8203;</tspan>)</text>
<text x="47.3" y="16.4" font-size="12.6" text-anchor="start" fill="#000" >(a) P<tspan dy="3.5" font-size="10.3">n</tspan><tspan dy="-3.5" font-size="0.1">&#8203;</tspan>= P<tspan dy="3.5" font-size="10.3">p</tspan><tspan dy="-3.5" font-size="0.1">&#8203;</tspan>= 0</text>
<text x="252.2" y="19" font-size="12.6" text-anchor="start" fill="#000" >S<tspan dx="1" dy="-6.3" font-size="10">-</tspan><tspan dx="3.1" dy="7.2">=</tspan><tspan dx="2.6" dy="-0.9">S</tspan><tspan dx="0.5" dy="-5.0" font-size="10">+</tspan></text>
<text x="45.3" y="186.2" font-size="12.45" text-anchor="start" fill="#000" >(b) S<tspan dy="-5.9" font-size="10.0">-</tspan><tspan dy="5.9" font-size="0.1">&#8203;</tspan><tspan dx="0.5">,</tspan> 6x10<tspan dy="-6.8" font-size="10.0">12</tspan><tspan dy="6.8" font-size="0.1">&#8203;</tspan> cm<tspan dy="-6.8" font-size="10.0">-2</tspan><tspan dy="6.8" font-size="0.1">&#8203;</tspan></text>
<text x="202" y="186.2" font-size="12.45" text-anchor="start" fill="#000" >(c) S<tspan dy="-4.1" font-size="10.0">+</tspan><tspan dy="4.1" font-size="0.1">&#8203;</tspan>, 6x10<tspan dy="-6.8" font-size="10.0">12</tspan><tspan dy="6.8" font-size="0.1">&#8203;</tspan> cm<tspan dy="-6.8" font-size="10.0">-2</tspan><tspan dy="6.8" font-size="0.1">&#8203;</tspan></text>
<text x="160.5" y="108.2" font-size="11" text-anchor="middle" fill="#000" >4</text>
<text x="216" y="108.1" font-size="11" text-anchor="middle" fill="#f00" >6</text>
<text x="261.3" y="107.9" font-size="11" text-anchor="middle" fill="#00f" >8</text>
<text x="302.5" y="108.0" font-size="11" text-anchor="middle" fill="#f0f" >10</text>
<text x="88.6" y="266.9" font-size="10.3" text-anchor="end" fill="#000" >up+down</text>
<text x="88.6" y="279.9" font-size="10.3" text-anchor="end" fill="#000" >up</text>
<text x="88.6" y="292.4" font-size="10.3" text-anchor="end" fill="#000" >down</text>
</g>
<path d="M96.6,263H124.2" stroke="#000" stroke-width="1.4"/>
<path d="M96.6,276H124.6" stroke="#f00" stroke-width="2.3" stroke-dasharray="13.5 4"/>
<path d="M96.6,288.5H121" stroke="#00f" stroke-width="3.2" stroke-dasharray="3.5 3.2"/>
</svg></body></html>
